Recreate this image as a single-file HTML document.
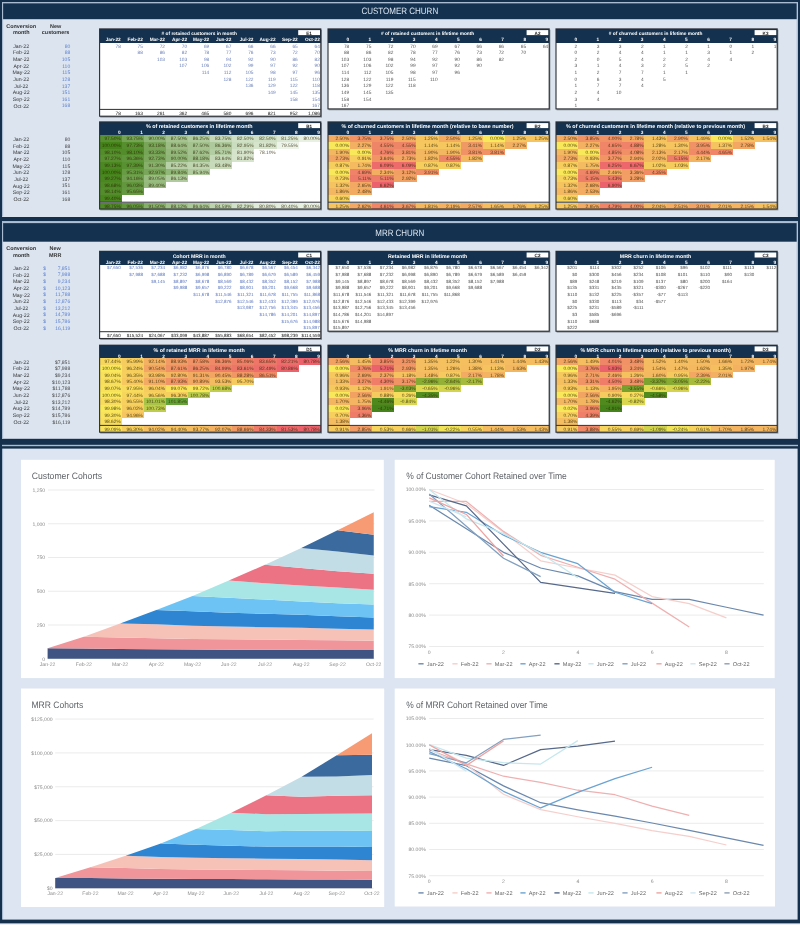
<!DOCTYPE html>
<html><head><meta charset="utf-8"><title>Cohort churn</title><style>
*{margin:0;padding:0}
html,body{width:800px;height:925px;overflow:hidden;background:#15304c}
svg{position:absolute;left:0;top:0;display:block;filter:blur(0.35px)}
text{font-family:"Liberation Sans",sans-serif;white-space:pre;text-rendering:geometricPrecision}
.sec{fill:#dce5f0;font-size:9.2px}
.hd{fill:#fff;font-weight:bold;font-size:4.8px}
.lb{fill:#222;font-weight:bold;font-size:4.6px}
.ch{fill:#fff;font-weight:bold;font-size:4.75px}
.vb{fill:#6a7fb8;font-size:4.8px}
.vmb{fill:#5d78c0;font-size:4.5px}
.vd{fill:#555;font-size:4.8px}
.vm{fill:#505050;font-size:4.5px}
.vh{fill:#2a2200;fill-opacity:0.78;font-size:4.85px}
.tv{fill:#111;font-size:4.8px}
.tvm{fill:#111;font-size:4.5px}
.lh{fill:#333;font-weight:bold;font-size:5.45px}
.lm{fill:#333;font-size:5.2px}
.lvb{fill:#5b7fd0;font-size:5.0px}
.lvd{fill:#444;font-size:5.0px}
.ct{fill:#5f6368;font-size:9.3px}
.ax{fill:#8a8a8a;font-size:5.1px}
.ay{fill:#8a8a8a;font-size:5.1px}
.lg{fill:#666;font-size:5.6px}
</style></head>
<body><svg width="800" height="925" viewBox="0 0 800 925">
<rect x="0.00" y="0.00" width="800.00" height="925.00" fill="#15304c" shape-rendering="crispEdges"/>
<rect x="2.00" y="2.00" width="796.00" height="214.50" fill="#dbe4ef" shape-rendering="crispEdges"/>
<rect x="2.00" y="2.00" width="796.00" height="1.30" fill="#a9bcd1"/>
<rect x="2.00" y="2.00" width="1.10" height="214.50" fill="#a9bcd1"/>
<rect x="796.70" y="2.00" width="1.10" height="214.50" fill="#a9bcd1"/>
<rect x="3.10" y="3.30" width="793.60" height="15.90" fill="#14324f"/>
<text x="399.80" y="14.27" class="sec" text-anchor="middle" textLength="76.80" lengthAdjust="spacingAndGlyphs">CUSTOMER CHURN</text>
<rect x="2.00" y="221.30" width="796.00" height="217.50" fill="#dbe4ef"/>
<rect x="2.00" y="221.30" width="796.00" height="1.60" fill="#a9bcd1"/>
<rect x="2.00" y="221.30" width="1.10" height="217.50" fill="#a9bcd1"/>
<rect x="796.70" y="221.30" width="1.10" height="217.50" fill="#a9bcd1"/>
<rect x="3.10" y="223.10" width="793.60" height="18.60" fill="#14324f"/>
<text x="399.80" y="235.97" class="sec" text-anchor="middle" textLength="49.00" lengthAdjust="spacingAndGlyphs">MRR CHURN</text>
<rect x="2.00" y="444.80" width="796.00" height="1.40" fill="#a9bcd1"/>
<rect x="3.00" y="448.60" width="794.60" height="471.00" fill="#dce5f1"/>
<rect x="2.00" y="448.60" width="1.10" height="471.00" fill="#a9bcd1"/>
<rect x="0.00" y="923.40" width="800.00" height="1.60" fill="#eef2f7"/>
<text x="21.20" y="27.53" class="lh" text-anchor="middle">Conversion</text>
<text x="21.20" y="34.43" class="lh" text-anchor="middle">month</text>
<text x="55.60" y="27.53" class="lh" text-anchor="middle">New</text>
<text x="55.60" y="34.43" class="lh" text-anchor="middle">customers</text>
<text x="21.20" y="47.75" class="lm" text-anchor="middle">Jan-22</text>
<text x="70.20" y="47.67" class="lvb" text-anchor="end">80</text>
<text x="21.20" y="54.39" class="lm" text-anchor="middle">Feb-22</text>
<text x="70.20" y="54.31" class="lvb" text-anchor="end">88</text>
<text x="21.20" y="61.03" class="lm" text-anchor="middle">Mar-22</text>
<text x="70.20" y="60.95" class="lvb" text-anchor="end">105</text>
<text x="21.20" y="67.67" class="lm" text-anchor="middle">Apr-22</text>
<text x="70.20" y="67.59" class="lvb" text-anchor="end">110</text>
<text x="21.20" y="74.31" class="lm" text-anchor="middle">May-22</text>
<text x="70.20" y="74.23" class="lvb" text-anchor="end">115</text>
<text x="21.20" y="80.95" class="lm" text-anchor="middle">Jun-22</text>
<text x="70.20" y="80.88" class="lvb" text-anchor="end">128</text>
<text x="21.20" y="87.59" class="lm" text-anchor="middle">Jul-22</text>
<text x="70.20" y="87.52" class="lvb" text-anchor="end">137</text>
<text x="21.20" y="94.23" class="lm" text-anchor="middle">Aug-22</text>
<text x="70.20" y="94.16" class="lvb" text-anchor="end">151</text>
<text x="21.20" y="100.87" class="lm" text-anchor="middle">Sep-22</text>
<text x="70.20" y="100.80" class="lvb" text-anchor="end">161</text>
<text x="21.20" y="107.51" class="lm" text-anchor="middle">Oct-22</text>
<text x="70.20" y="107.44" class="lvb" text-anchor="end">168</text>
<text x="21.20" y="141.05" class="lm" text-anchor="middle">Jan-22</text>
<text x="70.20" y="140.97" class="lvd" text-anchor="end">80</text>
<text x="21.20" y="147.69" class="lm" text-anchor="middle">Feb-22</text>
<text x="70.20" y="147.61" class="lvd" text-anchor="end">88</text>
<text x="21.20" y="154.33" class="lm" text-anchor="middle">Mar-22</text>
<text x="70.20" y="154.25" class="lvd" text-anchor="end">105</text>
<text x="21.20" y="160.97" class="lm" text-anchor="middle">Apr-22</text>
<text x="70.20" y="160.89" class="lvd" text-anchor="end">110</text>
<text x="21.20" y="167.61" class="lm" text-anchor="middle">May-22</text>
<text x="70.20" y="167.53" class="lvd" text-anchor="end">115</text>
<text x="21.20" y="174.25" class="lm" text-anchor="middle">Jun-22</text>
<text x="70.20" y="174.17" class="lvd" text-anchor="end">128</text>
<text x="21.20" y="180.89" class="lm" text-anchor="middle">Jul-22</text>
<text x="70.20" y="180.81" class="lvd" text-anchor="end">137</text>
<text x="21.20" y="187.53" class="lm" text-anchor="middle">Aug-22</text>
<text x="70.20" y="187.45" class="lvd" text-anchor="end">151</text>
<text x="21.20" y="194.17" class="lm" text-anchor="middle">Sep-22</text>
<text x="70.20" y="194.09" class="lvd" text-anchor="end">161</text>
<text x="21.20" y="200.81" class="lm" text-anchor="middle">Oct-22</text>
<text x="70.20" y="200.73" class="lvd" text-anchor="end">168</text>
<text x="21.20" y="249.93" class="lh" text-anchor="middle">Conversion</text>
<text x="21.20" y="256.63" class="lh" text-anchor="middle">month</text>
<text x="55.20" y="249.93" class="lh" text-anchor="middle">New</text>
<text x="55.20" y="256.63" class="lh" text-anchor="middle">MRR</text>
<text x="21.20" y="269.85" class="lm" text-anchor="middle">Jan-22</text>
<text x="43.20" y="269.77" class="lvb">$</text>
<text x="70.20" y="269.77" class="lvb" text-anchor="end">7,851</text>
<text x="21.20" y="276.52" class="lm" text-anchor="middle">Feb-22</text>
<text x="43.20" y="276.44" class="lvb">$</text>
<text x="70.20" y="276.44" class="lvb" text-anchor="end">7,988</text>
<text x="21.20" y="283.19" class="lm" text-anchor="middle">Mar-22</text>
<text x="43.20" y="283.11" class="lvb">$</text>
<text x="70.20" y="283.11" class="lvb" text-anchor="end">9,234</text>
<text x="21.20" y="289.86" class="lm" text-anchor="middle">Apr-22</text>
<text x="43.20" y="289.78" class="lvb">$</text>
<text x="70.20" y="289.78" class="lvb" text-anchor="end">10,123</text>
<text x="21.20" y="296.53" class="lm" text-anchor="middle">May-22</text>
<text x="43.20" y="296.45" class="lvb">$</text>
<text x="70.20" y="296.45" class="lvb" text-anchor="end">11,788</text>
<text x="21.20" y="303.20" class="lm" text-anchor="middle">Jun-22</text>
<text x="43.20" y="303.12" class="lvb">$</text>
<text x="70.20" y="303.12" class="lvb" text-anchor="end">12,876</text>
<text x="21.20" y="309.87" class="lm" text-anchor="middle">Jul-22</text>
<text x="43.20" y="309.79" class="lvb">$</text>
<text x="70.20" y="309.79" class="lvb" text-anchor="end">13,212</text>
<text x="21.20" y="316.54" class="lm" text-anchor="middle">Aug-22</text>
<text x="43.20" y="316.46" class="lvb">$</text>
<text x="70.20" y="316.46" class="lvb" text-anchor="end">14,789</text>
<text x="21.20" y="323.21" class="lm" text-anchor="middle">Sep-22</text>
<text x="43.20" y="323.13" class="lvb">$</text>
<text x="70.20" y="323.13" class="lvb" text-anchor="end">15,786</text>
<text x="21.20" y="329.88" class="lm" text-anchor="middle">Oct-22</text>
<text x="43.20" y="329.80" class="lvb">$</text>
<text x="70.20" y="329.80" class="lvb" text-anchor="end">16,119</text>
<text x="21.20" y="363.65" class="lm" text-anchor="middle">Jan-22</text>
<text x="70.20" y="363.57" class="lvd" text-anchor="end">$7,851</text>
<text x="21.20" y="370.32" class="lm" text-anchor="middle">Feb-22</text>
<text x="70.20" y="370.25" class="lvd" text-anchor="end">$7,988</text>
<text x="21.20" y="376.99" class="lm" text-anchor="middle">Mar-22</text>
<text x="70.20" y="376.91" class="lvd" text-anchor="end">$9,234</text>
<text x="21.20" y="383.66" class="lm" text-anchor="middle">Apr-22</text>
<text x="70.20" y="383.58" class="lvd" text-anchor="end">$10,123</text>
<text x="21.20" y="390.33" class="lm" text-anchor="middle">May-22</text>
<text x="70.20" y="390.25" class="lvd" text-anchor="end">$11,788</text>
<text x="21.20" y="397.00" class="lm" text-anchor="middle">Jun-22</text>
<text x="70.20" y="396.93" class="lvd" text-anchor="end">$12,876</text>
<text x="21.20" y="403.67" class="lm" text-anchor="middle">Jul-22</text>
<text x="70.20" y="403.59" class="lvd" text-anchor="end">$13,212</text>
<text x="21.20" y="410.34" class="lm" text-anchor="middle">Aug-22</text>
<text x="70.20" y="410.26" class="lvd" text-anchor="end">$14,789</text>
<text x="21.20" y="417.01" class="lm" text-anchor="middle">Sep-22</text>
<text x="70.20" y="416.94" class="lvd" text-anchor="end">$15,786</text>
<text x="21.20" y="423.68" class="lm" text-anchor="middle">Oct-22</text>
<text x="70.20" y="423.61" class="lvd" text-anchor="end">$16,119</text>
<rect x="100.20" y="29.70" width="221.80" height="87.90" fill="#8f949c"/>
<rect x="99.60" y="28.90" width="221.20" height="87.30" fill="#ffffff" shape-rendering="crispEdges"/>
<rect x="99.60" y="28.90" width="221.20" height="13.60" fill="#14324f" shape-rendering="crispEdges"/>
<text x="199.20" y="35.10" class="hd" text-anchor="middle" style="font-size:4.78px"># of retained customers in month</text>
<rect x="298.20" y="30.10" width="21.80" height="5.00" fill="#ffffff"/>
<text x="309.10" y="34.83" class="lb" text-anchor="middle">E1</text>
<text x="120.72" y="41.49" class="ch" text-anchor="end">Jan-22</text>
<text x="142.84" y="41.49" class="ch" text-anchor="end">Feb-22</text>
<text x="164.96" y="41.49" class="ch" text-anchor="end">Mar-22</text>
<text x="187.08" y="41.49" class="ch" text-anchor="end">Apr-22</text>
<text x="209.20" y="41.49" class="ch" text-anchor="end">May-22</text>
<text x="231.32" y="41.49" class="ch" text-anchor="end">Jun-22</text>
<text x="253.44" y="41.49" class="ch" text-anchor="end">Jul-22</text>
<text x="275.56" y="41.49" class="ch" text-anchor="end">Aug-22</text>
<text x="297.68" y="41.49" class="ch" text-anchor="end">Sep-22</text>
<text x="319.80" y="41.49" class="ch" text-anchor="end">Oct-22</text>
<text x="120.82" y="47.52" class="vb" text-anchor="end">78</text>
<text x="142.94" y="47.52" class="vb" text-anchor="end">75</text>
<text x="165.06" y="47.52" class="vb" text-anchor="end">72</text>
<text x="187.18" y="47.52" class="vb" text-anchor="end">70</text>
<text x="209.30" y="47.52" class="vb" text-anchor="end">69</text>
<text x="231.42" y="47.52" class="vb" text-anchor="end">67</text>
<text x="253.54" y="47.52" class="vb" text-anchor="end">66</text>
<text x="275.66" y="47.52" class="vb" text-anchor="end">66</text>
<text x="297.78" y="47.52" class="vb" text-anchor="end">65</text>
<text x="319.90" y="47.52" class="vb" text-anchor="end">64</text>
<text x="142.94" y="54.16" class="vb" text-anchor="end">88</text>
<text x="165.06" y="54.16" class="vb" text-anchor="end">86</text>
<text x="187.18" y="54.16" class="vb" text-anchor="end">82</text>
<text x="209.30" y="54.16" class="vb" text-anchor="end">78</text>
<text x="231.42" y="54.16" class="vb" text-anchor="end">77</text>
<text x="253.54" y="54.16" class="vb" text-anchor="end">76</text>
<text x="275.66" y="54.16" class="vb" text-anchor="end">73</text>
<text x="297.78" y="54.16" class="vb" text-anchor="end">72</text>
<text x="319.90" y="54.16" class="vb" text-anchor="end">70</text>
<text x="165.06" y="60.80" class="vb" text-anchor="end">103</text>
<text x="187.18" y="60.80" class="vb" text-anchor="end">103</text>
<text x="209.30" y="60.80" class="vb" text-anchor="end">98</text>
<text x="231.42" y="60.80" class="vb" text-anchor="end">94</text>
<text x="253.54" y="60.80" class="vb" text-anchor="end">92</text>
<text x="275.66" y="60.80" class="vb" text-anchor="end">90</text>
<text x="297.78" y="60.80" class="vb" text-anchor="end">86</text>
<text x="319.90" y="60.80" class="vb" text-anchor="end">82</text>
<text x="187.18" y="67.44" class="vb" text-anchor="end">107</text>
<text x="209.30" y="67.44" class="vb" text-anchor="end">106</text>
<text x="231.42" y="67.44" class="vb" text-anchor="end">102</text>
<text x="253.54" y="67.44" class="vb" text-anchor="end">99</text>
<text x="275.66" y="67.44" class="vb" text-anchor="end">97</text>
<text x="297.78" y="67.44" class="vb" text-anchor="end">92</text>
<text x="319.90" y="67.44" class="vb" text-anchor="end">90</text>
<text x="209.30" y="74.08" class="vb" text-anchor="end">114</text>
<text x="231.42" y="74.08" class="vb" text-anchor="end">112</text>
<text x="253.54" y="74.08" class="vb" text-anchor="end">105</text>
<text x="275.66" y="74.08" class="vb" text-anchor="end">98</text>
<text x="297.78" y="74.08" class="vb" text-anchor="end">97</text>
<text x="319.90" y="74.08" class="vb" text-anchor="end">96</text>
<text x="231.42" y="80.72" class="vb" text-anchor="end">128</text>
<text x="253.54" y="80.72" class="vb" text-anchor="end">122</text>
<text x="275.66" y="80.72" class="vb" text-anchor="end">119</text>
<text x="297.78" y="80.72" class="vb" text-anchor="end">115</text>
<text x="319.90" y="80.72" class="vb" text-anchor="end">110</text>
<text x="253.54" y="87.36" class="vb" text-anchor="end">136</text>
<text x="275.66" y="87.36" class="vb" text-anchor="end">129</text>
<text x="297.78" y="87.36" class="vb" text-anchor="end">122</text>
<text x="319.90" y="87.36" class="vb" text-anchor="end">118</text>
<text x="275.66" y="94.00" class="vb" text-anchor="end">149</text>
<text x="297.78" y="94.00" class="vb" text-anchor="end">145</text>
<text x="319.90" y="94.00" class="vb" text-anchor="end">135</text>
<text x="297.78" y="100.64" class="vb" text-anchor="end">158</text>
<text x="319.90" y="100.64" class="vb" text-anchor="end">154</text>
<text x="319.90" y="107.28" class="vb" text-anchor="end">167</text>
<rect x="99.60" y="108.90" width="221.20" height="1.00" fill="#2b2f36"/>
<text x="120.82" y="114.75" class="tv" text-anchor="end">78</text>
<text x="142.94" y="114.75" class="tv" text-anchor="end">163</text>
<text x="165.06" y="114.75" class="tv" text-anchor="end">261</text>
<text x="187.18" y="114.75" class="tv" text-anchor="end">362</text>
<text x="209.30" y="114.75" class="tv" text-anchor="end">465</text>
<text x="231.42" y="114.75" class="tv" text-anchor="end">580</text>
<text x="253.54" y="114.75" class="tv" text-anchor="end">696</text>
<text x="275.66" y="114.75" class="tv" text-anchor="end">821</text>
<text x="297.78" y="114.75" class="tv" text-anchor="end">952</text>
<text x="319.90" y="114.75" class="tv" text-anchor="end">1,086</text>
<rect x="99.60" y="28.90" width="221.20" height="87.30" fill="none" stroke="#2a2d33" stroke-width="1.1"/>
<rect x="328.60" y="29.70" width="221.80" height="80.60" fill="#8f949c"/>
<rect x="328.00" y="28.90" width="221.20" height="80.00" fill="#ffffff" shape-rendering="crispEdges"/>
<rect x="328.00" y="28.90" width="221.20" height="13.60" fill="#14324f" shape-rendering="crispEdges"/>
<text x="427.60" y="35.10" class="hd" text-anchor="middle" style="font-size:4.78px"># of retained customers in lifetime month</text>
<rect x="526.60" y="30.10" width="21.80" height="5.00" fill="#ffffff"/>
<text x="537.50" y="34.83" class="lb" text-anchor="middle">A2</text>
<text x="349.12" y="41.49" class="ch" text-anchor="end">0</text>
<text x="371.24" y="41.49" class="ch" text-anchor="end">1</text>
<text x="393.36" y="41.49" class="ch" text-anchor="end">2</text>
<text x="415.48" y="41.49" class="ch" text-anchor="end">3</text>
<text x="437.60" y="41.49" class="ch" text-anchor="end">4</text>
<text x="459.72" y="41.49" class="ch" text-anchor="end">5</text>
<text x="481.84" y="41.49" class="ch" text-anchor="end">6</text>
<text x="503.96" y="41.49" class="ch" text-anchor="end">7</text>
<text x="526.08" y="41.49" class="ch" text-anchor="end">8</text>
<text x="548.20" y="41.49" class="ch" text-anchor="end">9</text>
<text x="349.22" y="47.52" class="vd" text-anchor="end">78</text>
<text x="371.34" y="47.52" class="vd" text-anchor="end">75</text>
<text x="393.46" y="47.52" class="vd" text-anchor="end">72</text>
<text x="415.58" y="47.52" class="vd" text-anchor="end">70</text>
<text x="437.70" y="47.52" class="vd" text-anchor="end">69</text>
<text x="459.82" y="47.52" class="vd" text-anchor="end">67</text>
<text x="481.94" y="47.52" class="vd" text-anchor="end">66</text>
<text x="504.06" y="47.52" class="vd" text-anchor="end">66</text>
<text x="526.18" y="47.52" class="vd" text-anchor="end">65</text>
<text x="548.30" y="47.52" class="vd" text-anchor="end">64</text>
<text x="349.22" y="54.16" class="vd" text-anchor="end">88</text>
<text x="371.34" y="54.16" class="vd" text-anchor="end">86</text>
<text x="393.46" y="54.16" class="vd" text-anchor="end">82</text>
<text x="415.58" y="54.16" class="vd" text-anchor="end">78</text>
<text x="437.70" y="54.16" class="vd" text-anchor="end">77</text>
<text x="459.82" y="54.16" class="vd" text-anchor="end">76</text>
<text x="481.94" y="54.16" class="vd" text-anchor="end">73</text>
<text x="504.06" y="54.16" class="vd" text-anchor="end">72</text>
<text x="526.18" y="54.16" class="vd" text-anchor="end">70</text>
<text x="349.22" y="60.80" class="vd" text-anchor="end">103</text>
<text x="371.34" y="60.80" class="vd" text-anchor="end">103</text>
<text x="393.46" y="60.80" class="vd" text-anchor="end">98</text>
<text x="415.58" y="60.80" class="vd" text-anchor="end">94</text>
<text x="437.70" y="60.80" class="vd" text-anchor="end">92</text>
<text x="459.82" y="60.80" class="vd" text-anchor="end">90</text>
<text x="481.94" y="60.80" class="vd" text-anchor="end">86</text>
<text x="504.06" y="60.80" class="vd" text-anchor="end">82</text>
<text x="349.22" y="67.44" class="vd" text-anchor="end">107</text>
<text x="371.34" y="67.44" class="vd" text-anchor="end">106</text>
<text x="393.46" y="67.44" class="vd" text-anchor="end">102</text>
<text x="415.58" y="67.44" class="vd" text-anchor="end">99</text>
<text x="437.70" y="67.44" class="vd" text-anchor="end">97</text>
<text x="459.82" y="67.44" class="vd" text-anchor="end">92</text>
<text x="481.94" y="67.44" class="vd" text-anchor="end">90</text>
<text x="349.22" y="74.08" class="vd" text-anchor="end">114</text>
<text x="371.34" y="74.08" class="vd" text-anchor="end">112</text>
<text x="393.46" y="74.08" class="vd" text-anchor="end">105</text>
<text x="415.58" y="74.08" class="vd" text-anchor="end">98</text>
<text x="437.70" y="74.08" class="vd" text-anchor="end">97</text>
<text x="459.82" y="74.08" class="vd" text-anchor="end">96</text>
<text x="349.22" y="80.72" class="vd" text-anchor="end">128</text>
<text x="371.34" y="80.72" class="vd" text-anchor="end">122</text>
<text x="393.46" y="80.72" class="vd" text-anchor="end">119</text>
<text x="415.58" y="80.72" class="vd" text-anchor="end">115</text>
<text x="437.70" y="80.72" class="vd" text-anchor="end">110</text>
<text x="349.22" y="87.36" class="vd" text-anchor="end">136</text>
<text x="371.34" y="87.36" class="vd" text-anchor="end">129</text>
<text x="393.46" y="87.36" class="vd" text-anchor="end">122</text>
<text x="415.58" y="87.36" class="vd" text-anchor="end">118</text>
<text x="349.22" y="94.00" class="vd" text-anchor="end">149</text>
<text x="371.34" y="94.00" class="vd" text-anchor="end">145</text>
<text x="393.46" y="94.00" class="vd" text-anchor="end">135</text>
<text x="349.22" y="100.64" class="vd" text-anchor="end">158</text>
<text x="371.34" y="100.64" class="vd" text-anchor="end">154</text>
<text x="349.22" y="107.28" class="vd" text-anchor="end">167</text>
<rect x="328.00" y="28.90" width="221.20" height="80.00" fill="none" stroke="#2a2d33" stroke-width="1.1"/>
<rect x="556.60" y="29.70" width="221.80" height="80.60" fill="#8f949c"/>
<rect x="556.00" y="28.90" width="221.20" height="80.00" fill="#ffffff" shape-rendering="crispEdges"/>
<rect x="556.00" y="28.90" width="221.20" height="13.60" fill="#14324f" shape-rendering="crispEdges"/>
<text x="655.60" y="35.10" class="hd" text-anchor="middle" style="font-size:4.78px"># of churned customers in lifetime month</text>
<rect x="754.60" y="30.10" width="21.80" height="5.00" fill="#ffffff"/>
<text x="765.50" y="34.83" class="lb" text-anchor="middle">K3</text>
<text x="577.12" y="41.49" class="ch" text-anchor="end">0</text>
<text x="599.24" y="41.49" class="ch" text-anchor="end">1</text>
<text x="621.36" y="41.49" class="ch" text-anchor="end">2</text>
<text x="643.48" y="41.49" class="ch" text-anchor="end">3</text>
<text x="665.60" y="41.49" class="ch" text-anchor="end">4</text>
<text x="687.72" y="41.49" class="ch" text-anchor="end">5</text>
<text x="709.84" y="41.49" class="ch" text-anchor="end">6</text>
<text x="731.96" y="41.49" class="ch" text-anchor="end">7</text>
<text x="754.08" y="41.49" class="ch" text-anchor="end">8</text>
<text x="776.20" y="41.49" class="ch" text-anchor="end">9</text>
<text x="577.22" y="47.52" class="vd" text-anchor="end">2</text>
<text x="599.34" y="47.52" class="vd" text-anchor="end">3</text>
<text x="621.46" y="47.52" class="vd" text-anchor="end">3</text>
<text x="643.58" y="47.52" class="vd" text-anchor="end">2</text>
<text x="665.70" y="47.52" class="vd" text-anchor="end">1</text>
<text x="687.82" y="47.52" class="vd" text-anchor="end">2</text>
<text x="709.94" y="47.52" class="vd" text-anchor="end">1</text>
<text x="732.06" y="47.52" class="vd" text-anchor="end">0</text>
<text x="754.18" y="47.52" class="vd" text-anchor="end">1</text>
<text x="776.30" y="47.52" class="vd" text-anchor="end">1</text>
<text x="577.22" y="54.16" class="vd" text-anchor="end">0</text>
<text x="599.34" y="54.16" class="vd" text-anchor="end">2</text>
<text x="621.46" y="54.16" class="vd" text-anchor="end">4</text>
<text x="643.58" y="54.16" class="vd" text-anchor="end">4</text>
<text x="665.70" y="54.16" class="vd" text-anchor="end">1</text>
<text x="687.82" y="54.16" class="vd" text-anchor="end">1</text>
<text x="709.94" y="54.16" class="vd" text-anchor="end">3</text>
<text x="732.06" y="54.16" class="vd" text-anchor="end">1</text>
<text x="754.18" y="54.16" class="vd" text-anchor="end">2</text>
<text x="577.22" y="60.80" class="vd" text-anchor="end">2</text>
<text x="599.34" y="60.80" class="vd" text-anchor="end">0</text>
<text x="621.46" y="60.80" class="vd" text-anchor="end">5</text>
<text x="643.58" y="60.80" class="vd" text-anchor="end">4</text>
<text x="665.70" y="60.80" class="vd" text-anchor="end">2</text>
<text x="687.82" y="60.80" class="vd" text-anchor="end">2</text>
<text x="709.94" y="60.80" class="vd" text-anchor="end">4</text>
<text x="732.06" y="60.80" class="vd" text-anchor="end">4</text>
<text x="577.22" y="67.44" class="vd" text-anchor="end">3</text>
<text x="599.34" y="67.44" class="vd" text-anchor="end">1</text>
<text x="621.46" y="67.44" class="vd" text-anchor="end">4</text>
<text x="643.58" y="67.44" class="vd" text-anchor="end">3</text>
<text x="665.70" y="67.44" class="vd" text-anchor="end">2</text>
<text x="687.82" y="67.44" class="vd" text-anchor="end">5</text>
<text x="709.94" y="67.44" class="vd" text-anchor="end">2</text>
<text x="577.22" y="74.08" class="vd" text-anchor="end">1</text>
<text x="599.34" y="74.08" class="vd" text-anchor="end">2</text>
<text x="621.46" y="74.08" class="vd" text-anchor="end">7</text>
<text x="643.58" y="74.08" class="vd" text-anchor="end">7</text>
<text x="665.70" y="74.08" class="vd" text-anchor="end">1</text>
<text x="687.82" y="74.08" class="vd" text-anchor="end">1</text>
<text x="577.22" y="80.72" class="vd" text-anchor="end">0</text>
<text x="599.34" y="80.72" class="vd" text-anchor="end">6</text>
<text x="621.46" y="80.72" class="vd" text-anchor="end">3</text>
<text x="643.58" y="80.72" class="vd" text-anchor="end">4</text>
<text x="665.70" y="80.72" class="vd" text-anchor="end">5</text>
<text x="577.22" y="87.36" class="vd" text-anchor="end">1</text>
<text x="599.34" y="87.36" class="vd" text-anchor="end">7</text>
<text x="621.46" y="87.36" class="vd" text-anchor="end">7</text>
<text x="643.58" y="87.36" class="vd" text-anchor="end">4</text>
<text x="577.22" y="94.00" class="vd" text-anchor="end">2</text>
<text x="599.34" y="94.00" class="vd" text-anchor="end">4</text>
<text x="621.46" y="94.00" class="vd" text-anchor="end">10</text>
<text x="577.22" y="100.64" class="vd" text-anchor="end">3</text>
<text x="599.34" y="100.64" class="vd" text-anchor="end">4</text>
<text x="577.22" y="107.28" class="vd" text-anchor="end">1</text>
<rect x="556.00" y="28.90" width="221.20" height="80.00" fill="none" stroke="#2a2d33" stroke-width="1.1"/>
<rect x="100.20" y="122.70" width="221.80" height="87.70" fill="#8f949c"/>
<rect x="99.60" y="121.90" width="221.20" height="87.10" fill="#ffffff" shape-rendering="crispEdges"/>
<rect x="99.60" y="121.90" width="221.20" height="13.40" fill="#14324f" shape-rendering="crispEdges"/>
<text x="199.20" y="128.31" class="hd" text-anchor="middle" style="font-size:5.37px">% of retained customers in lifetime month</text>
<rect x="298.20" y="123.10" width="21.80" height="5.00" fill="#ffffff"/>
<text x="309.10" y="127.83" class="lb" text-anchor="middle">B1</text>
<text x="120.72" y="134.49" class="ch" text-anchor="end">0</text>
<text x="142.84" y="134.49" class="ch" text-anchor="end">1</text>
<text x="164.96" y="134.49" class="ch" text-anchor="end">2</text>
<text x="187.08" y="134.49" class="ch" text-anchor="end">3</text>
<text x="209.20" y="134.49" class="ch" text-anchor="end">4</text>
<text x="231.32" y="134.49" class="ch" text-anchor="end">5</text>
<text x="253.44" y="134.49" class="ch" text-anchor="end">6</text>
<text x="275.56" y="134.49" class="ch" text-anchor="end">7</text>
<text x="297.68" y="134.49" class="ch" text-anchor="end">8</text>
<text x="319.80" y="134.49" class="ch" text-anchor="end">9</text>
<rect x="99.60" y="135.30" width="22.17" height="6.69" fill="#579030" shape-rendering="crispEdges"/>
<rect x="121.72" y="135.30" width="22.17" height="6.69" fill="#73a353" shape-rendering="crispEdges"/>
<rect x="143.84" y="135.30" width="22.17" height="6.69" fill="#90b677" shape-rendering="crispEdges"/>
<rect x="165.96" y="135.30" width="22.17" height="6.69" fill="#a4c38f" shape-rendering="crispEdges"/>
<rect x="188.08" y="135.30" width="22.17" height="6.69" fill="#afca9c" shape-rendering="crispEdges"/>
<rect x="210.20" y="135.30" width="22.17" height="6.69" fill="#c4d8b7" shape-rendering="crispEdges"/>
<rect x="232.32" y="135.30" width="22.17" height="6.69" fill="#cfe0c4" shape-rendering="crispEdges"/>
<rect x="254.44" y="135.30" width="22.17" height="6.69" fill="#cfe0c4" shape-rendering="crispEdges"/>
<rect x="276.56" y="135.30" width="22.17" height="6.69" fill="#dbe7d3" shape-rendering="crispEdges"/>
<rect x="298.68" y="135.30" width="22.17" height="6.69" fill="#e8f0e2" shape-rendering="crispEdges"/>
<rect x="99.60" y="141.94" width="22.17" height="6.69" fill="#45841a" shape-rendering="crispEdges"/>
<rect x="121.72" y="141.94" width="22.17" height="6.69" fill="#568f2e" shape-rendering="crispEdges"/>
<rect x="143.84" y="141.94" width="22.17" height="6.69" fill="#78a558" shape-rendering="crispEdges"/>
<rect x="165.96" y="141.94" width="22.17" height="6.69" fill="#9bbd84" shape-rendering="crispEdges"/>
<rect x="188.08" y="141.94" width="22.17" height="6.69" fill="#a4c38f" shape-rendering="crispEdges"/>
<rect x="210.20" y="141.94" width="22.17" height="6.69" fill="#aec99b" shape-rendering="crispEdges"/>
<rect x="232.32" y="141.94" width="22.17" height="6.69" fill="#cbddbf" shape-rendering="crispEdges"/>
<rect x="254.44" y="141.94" width="22.17" height="6.69" fill="#d6e4cc" shape-rendering="crispEdges"/>
<rect x="276.56" y="141.94" width="22.17" height="6.69" fill="#ecf3e8" shape-rendering="crispEdges"/>
<rect x="99.60" y="148.58" width="22.17" height="6.69" fill="#538d2b" shape-rendering="crispEdges"/>
<rect x="121.72" y="148.58" width="22.17" height="6.69" fill="#538d2b" shape-rendering="crispEdges"/>
<rect x="143.84" y="148.58" width="22.17" height="6.69" fill="#76a557" shape-rendering="crispEdges"/>
<rect x="165.96" y="148.58" width="22.17" height="6.69" fill="#94b87b" shape-rendering="crispEdges"/>
<rect x="188.08" y="148.58" width="22.17" height="6.69" fill="#a3c28e" shape-rendering="crispEdges"/>
<rect x="210.20" y="148.58" width="22.17" height="6.69" fill="#b3cda2" shape-rendering="crispEdges"/>
<rect x="232.32" y="148.58" width="22.17" height="6.69" fill="#d5e3cb" shape-rendering="crispEdges"/>
<rect x="254.44" y="148.58" width="22.17" height="6.69" fill="#ffffff" shape-rendering="crispEdges"/>
<rect x="99.60" y="155.22" width="22.17" height="6.69" fill="#599132" shape-rendering="crispEdges"/>
<rect x="121.72" y="155.22" width="22.17" height="6.69" fill="#60963b" shape-rendering="crispEdges"/>
<rect x="143.84" y="155.22" width="22.17" height="6.69" fill="#7ba85c" shape-rendering="crispEdges"/>
<rect x="165.96" y="155.22" width="22.17" height="6.69" fill="#90b677" shape-rendering="crispEdges"/>
<rect x="188.08" y="155.22" width="22.17" height="6.69" fill="#9fbf89" shape-rendering="crispEdges"/>
<rect x="210.20" y="155.22" width="22.17" height="6.69" fill="#c5d9b8" shape-rendering="crispEdges"/>
<rect x="232.32" y="155.22" width="22.17" height="6.69" fill="#d6e4cc" shape-rendering="crispEdges"/>
<rect x="99.60" y="161.86" width="22.17" height="6.69" fill="#4b8822" shape-rendering="crispEdges"/>
<rect x="121.72" y="161.86" width="22.17" height="6.69" fill="#589131" shape-rendering="crispEdges"/>
<rect x="143.84" y="161.86" width="22.17" height="6.69" fill="#86af6a" shape-rendering="crispEdges"/>
<rect x="165.96" y="161.86" width="22.17" height="6.69" fill="#b7d0a7" shape-rendering="crispEdges"/>
<rect x="188.08" y="161.86" width="22.17" height="6.69" fill="#bfd5b0" shape-rendering="crispEdges"/>
<rect x="210.20" y="161.86" width="22.17" height="6.69" fill="#c7daba" shape-rendering="crispEdges"/>
<rect x="99.60" y="168.50" width="22.17" height="6.69" fill="#45841a" shape-rendering="crispEdges"/>
<rect x="121.72" y="168.50" width="22.17" height="6.69" fill="#679b44" shape-rendering="crispEdges"/>
<rect x="143.84" y="168.50" width="22.17" height="6.69" fill="#79a65a" shape-rendering="crispEdges"/>
<rect x="165.96" y="168.50" width="22.17" height="6.69" fill="#91b778" shape-rendering="crispEdges"/>
<rect x="188.08" y="168.50" width="22.17" height="6.69" fill="#b1cc9f" shape-rendering="crispEdges"/>
<rect x="99.60" y="175.14" width="22.17" height="6.69" fill="#4a8721" shape-rendering="crispEdges"/>
<rect x="121.72" y="175.14" width="22.17" height="6.69" fill="#70a04f" shape-rendering="crispEdges"/>
<rect x="143.84" y="175.14" width="22.17" height="6.69" fill="#98bb80" shape-rendering="crispEdges"/>
<rect x="165.96" y="175.14" width="22.17" height="6.69" fill="#b0cb9d" shape-rendering="crispEdges"/>
<rect x="99.60" y="181.78" width="22.17" height="6.69" fill="#4f8a26" shape-rendering="crispEdges"/>
<rect x="121.72" y="181.78" width="22.17" height="6.69" fill="#62973e" shape-rendering="crispEdges"/>
<rect x="143.84" y="181.78" width="22.17" height="6.69" fill="#95b97c" shape-rendering="crispEdges"/>
<rect x="99.60" y="188.42" width="22.17" height="6.69" fill="#538d2b" shape-rendering="crispEdges"/>
<rect x="121.72" y="188.42" width="22.17" height="6.69" fill="#659941" shape-rendering="crispEdges"/>
<rect x="99.60" y="195.06" width="22.17" height="6.69" fill="#49871f" shape-rendering="crispEdges"/>
<text x="120.82" y="140.34" class="vh" text-anchor="end">97.50%</text>
<text x="142.94" y="140.34" class="vh" text-anchor="end">93.75%</text>
<text x="165.06" y="140.34" class="vh" text-anchor="end">90.00%</text>
<text x="187.18" y="140.34" class="vh" text-anchor="end">87.50%</text>
<text x="209.30" y="140.34" class="vh" text-anchor="end">86.25%</text>
<text x="231.42" y="140.34" class="vh" text-anchor="end">83.75%</text>
<text x="253.54" y="140.34" class="vh" text-anchor="end">82.50%</text>
<text x="275.66" y="140.34" class="vh" text-anchor="end">82.50%</text>
<text x="297.78" y="140.34" class="vh" text-anchor="end">81.25%</text>
<text x="319.90" y="140.34" class="vh" text-anchor="end">80.00%</text>
<text x="120.82" y="146.98" class="vh" text-anchor="end">100.00%</text>
<text x="142.94" y="146.98" class="vh" text-anchor="end">97.73%</text>
<text x="165.06" y="146.98" class="vh" text-anchor="end">93.18%</text>
<text x="187.18" y="146.98" class="vh" text-anchor="end">88.64%</text>
<text x="209.30" y="146.98" class="vh" text-anchor="end">87.50%</text>
<text x="231.42" y="146.98" class="vh" text-anchor="end">86.36%</text>
<text x="253.54" y="146.98" class="vh" text-anchor="end">82.95%</text>
<text x="275.66" y="146.98" class="vh" text-anchor="end">81.82%</text>
<text x="297.78" y="146.98" class="vh" text-anchor="end">79.55%</text>
<text x="120.82" y="153.62" class="vh" text-anchor="end">98.10%</text>
<text x="142.94" y="153.62" class="vh" text-anchor="end">98.10%</text>
<text x="165.06" y="153.62" class="vh" text-anchor="end">93.33%</text>
<text x="187.18" y="153.62" class="vh" text-anchor="end">89.52%</text>
<text x="209.30" y="153.62" class="vh" text-anchor="end">87.62%</text>
<text x="231.42" y="153.62" class="vh" text-anchor="end">85.71%</text>
<text x="253.54" y="153.62" class="vh" text-anchor="end">81.90%</text>
<text x="275.66" y="153.62" class="vh" text-anchor="end">78.10%</text>
<text x="120.82" y="160.26" class="vh" text-anchor="end">97.27%</text>
<text x="142.94" y="160.26" class="vh" text-anchor="end">96.36%</text>
<text x="165.06" y="160.26" class="vh" text-anchor="end">92.73%</text>
<text x="187.18" y="160.26" class="vh" text-anchor="end">90.00%</text>
<text x="209.30" y="160.26" class="vh" text-anchor="end">88.18%</text>
<text x="231.42" y="160.26" class="vh" text-anchor="end">83.64%</text>
<text x="253.54" y="160.26" class="vh" text-anchor="end">81.82%</text>
<text x="120.82" y="166.90" class="vh" text-anchor="end">99.13%</text>
<text x="142.94" y="166.90" class="vh" text-anchor="end">97.39%</text>
<text x="165.06" y="166.90" class="vh" text-anchor="end">91.30%</text>
<text x="187.18" y="166.90" class="vh" text-anchor="end">85.22%</text>
<text x="209.30" y="166.90" class="vh" text-anchor="end">84.35%</text>
<text x="231.42" y="166.90" class="vh" text-anchor="end">83.48%</text>
<text x="120.82" y="173.54" class="vh" text-anchor="end">100.00%</text>
<text x="142.94" y="173.54" class="vh" text-anchor="end">95.31%</text>
<text x="165.06" y="173.54" class="vh" text-anchor="end">92.97%</text>
<text x="187.18" y="173.54" class="vh" text-anchor="end">89.84%</text>
<text x="209.30" y="173.54" class="vh" text-anchor="end">85.94%</text>
<text x="120.82" y="180.18" class="vh" text-anchor="end">99.27%</text>
<text x="142.94" y="180.18" class="vh" text-anchor="end">94.16%</text>
<text x="165.06" y="180.18" class="vh" text-anchor="end">89.05%</text>
<text x="187.18" y="180.18" class="vh" text-anchor="end">86.13%</text>
<text x="120.82" y="186.82" class="vh" text-anchor="end">98.68%</text>
<text x="142.94" y="186.82" class="vh" text-anchor="end">96.03%</text>
<text x="165.06" y="186.82" class="vh" text-anchor="end">89.40%</text>
<text x="120.82" y="193.46" class="vh" text-anchor="end">98.14%</text>
<text x="142.94" y="193.46" class="vh" text-anchor="end">95.65%</text>
<text x="120.82" y="200.10" class="vh" text-anchor="end">99.40%</text>
<rect x="99.60" y="201.70" width="221.20" height="1.00" fill="#2b2f36"/>
<rect x="99.60" y="202.70" width="22.17" height="6.30" fill="#4e8a25" shape-rendering="crispEdges"/>
<rect x="121.72" y="202.70" width="22.17" height="6.30" fill="#62973e" shape-rendering="crispEdges"/>
<rect x="143.84" y="202.70" width="22.17" height="6.30" fill="#85ae68" shape-rendering="crispEdges"/>
<rect x="165.96" y="202.70" width="22.17" height="6.30" fill="#9fc089" shape-rendering="crispEdges"/>
<rect x="188.08" y="202.70" width="22.17" height="6.30" fill="#abc898" shape-rendering="crispEdges"/>
<rect x="210.20" y="202.70" width="22.17" height="6.30" fill="#bdd3ae" shape-rendering="crispEdges"/>
<rect x="232.32" y="202.70" width="22.17" height="6.30" fill="#d1e1c7" shape-rendering="crispEdges"/>
<rect x="254.44" y="202.70" width="22.17" height="6.30" fill="#e0ead8" shape-rendering="crispEdges"/>
<rect x="276.56" y="202.70" width="22.17" height="6.30" fill="#e4eddd" shape-rendering="crispEdges"/>
<rect x="298.68" y="202.70" width="22.17" height="6.30" fill="#e8f0e2" shape-rendering="crispEdges"/>
<text x="120.82" y="207.57" class="vh" text-anchor="end">98.75%</text>
<text x="142.94" y="207.57" class="vh" text-anchor="end">96.05%</text>
<text x="165.06" y="207.57" class="vh" text-anchor="end">91.50%</text>
<text x="187.18" y="207.57" class="vh" text-anchor="end">88.12%</text>
<text x="209.30" y="207.57" class="vh" text-anchor="end">86.64%</text>
<text x="231.42" y="207.57" class="vh" text-anchor="end">84.59%</text>
<text x="253.54" y="207.57" class="vh" text-anchor="end">82.29%</text>
<text x="275.66" y="207.57" class="vh" text-anchor="end">80.80%</text>
<text x="297.78" y="207.57" class="vh" text-anchor="end">80.40%</text>
<text x="319.90" y="207.57" class="vh" text-anchor="end">80.00%</text>
<rect x="99.60" y="121.90" width="221.20" height="87.10" fill="none" stroke="#2a2d33" stroke-width="1.1"/>
<rect x="328.60" y="122.70" width="221.80" height="87.70" fill="#8f949c"/>
<rect x="328.00" y="121.90" width="221.20" height="87.10" fill="#ffffff" shape-rendering="crispEdges"/>
<rect x="328.00" y="121.90" width="221.20" height="13.40" fill="#14324f" shape-rendering="crispEdges"/>
<text x="427.60" y="128.31" class="hd" text-anchor="middle" style="font-size:5.37px">% of churned customers in lifetime month (relative to base number)</text>
<rect x="526.60" y="123.10" width="21.80" height="5.00" fill="#ffffff"/>
<text x="537.50" y="127.83" class="lb" text-anchor="middle">B2</text>
<text x="349.12" y="134.49" class="ch" text-anchor="end">0</text>
<text x="371.24" y="134.49" class="ch" text-anchor="end">1</text>
<text x="393.36" y="134.49" class="ch" text-anchor="end">2</text>
<text x="415.48" y="134.49" class="ch" text-anchor="end">3</text>
<text x="437.60" y="134.49" class="ch" text-anchor="end">4</text>
<text x="459.72" y="134.49" class="ch" text-anchor="end">5</text>
<text x="481.84" y="134.49" class="ch" text-anchor="end">6</text>
<text x="503.96" y="134.49" class="ch" text-anchor="end">7</text>
<text x="526.08" y="134.49" class="ch" text-anchor="end">8</text>
<text x="548.20" y="134.49" class="ch" text-anchor="end">9</text>
<rect x="328.00" y="135.30" width="22.17" height="6.69" fill="#f3ab62" shape-rendering="crispEdges"/>
<rect x="350.12" y="135.30" width="22.17" height="6.69" fill="#f19365" shape-rendering="crispEdges"/>
<rect x="372.24" y="135.30" width="22.17" height="6.69" fill="#f19365" shape-rendering="crispEdges"/>
<rect x="394.36" y="135.30" width="22.17" height="6.69" fill="#f3ab62" shape-rendering="crispEdges"/>
<rect x="416.48" y="135.30" width="22.17" height="6.69" fill="#f6c55f" shape-rendering="crispEdges"/>
<rect x="438.60" y="135.30" width="22.17" height="6.69" fill="#f3ab62" shape-rendering="crispEdges"/>
<rect x="460.72" y="135.30" width="22.17" height="6.69" fill="#f6c55f" shape-rendering="crispEdges"/>
<rect x="482.84" y="135.30" width="22.17" height="6.69" fill="#f9e85a" shape-rendering="crispEdges"/>
<rect x="504.96" y="135.30" width="22.17" height="6.69" fill="#f6c55f" shape-rendering="crispEdges"/>
<rect x="527.08" y="135.30" width="22.17" height="6.69" fill="#f6c55f" shape-rendering="crispEdges"/>
<rect x="328.00" y="141.94" width="22.17" height="6.69" fill="#f9e85a" shape-rendering="crispEdges"/>
<rect x="350.12" y="141.94" width="22.17" height="6.69" fill="#f3af62" shape-rendering="crispEdges"/>
<rect x="372.24" y="141.94" width="22.17" height="6.69" fill="#ef8567" shape-rendering="crispEdges"/>
<rect x="394.36" y="141.94" width="22.17" height="6.69" fill="#ef8567" shape-rendering="crispEdges"/>
<rect x="416.48" y="141.94" width="22.17" height="6.69" fill="#f6c75e" shape-rendering="crispEdges"/>
<rect x="438.60" y="141.94" width="22.17" height="6.69" fill="#f6c75e" shape-rendering="crispEdges"/>
<rect x="460.72" y="141.94" width="22.17" height="6.69" fill="#f19965" shape-rendering="crispEdges"/>
<rect x="482.84" y="141.94" width="22.17" height="6.69" fill="#f6c75e" shape-rendering="crispEdges"/>
<rect x="504.96" y="141.94" width="22.17" height="6.69" fill="#f3af62" shape-rendering="crispEdges"/>
<rect x="328.00" y="148.58" width="22.17" height="6.69" fill="#f4b761" shape-rendering="crispEdges"/>
<rect x="350.12" y="148.58" width="22.17" height="6.69" fill="#f9e85a" shape-rendering="crispEdges"/>
<rect x="372.24" y="148.58" width="22.17" height="6.69" fill="#ef8168" shape-rendering="crispEdges"/>
<rect x="394.36" y="148.58" width="22.17" height="6.69" fill="#f19266" shape-rendering="crispEdges"/>
<rect x="416.48" y="148.58" width="22.17" height="6.69" fill="#f4b761" shape-rendering="crispEdges"/>
<rect x="438.60" y="148.58" width="22.17" height="6.69" fill="#f4b761" shape-rendering="crispEdges"/>
<rect x="460.72" y="148.58" width="22.17" height="6.69" fill="#f19266" shape-rendering="crispEdges"/>
<rect x="482.84" y="148.58" width="22.17" height="6.69" fill="#f19266" shape-rendering="crispEdges"/>
<rect x="328.00" y="155.22" width="22.17" height="6.69" fill="#f3a663" shape-rendering="crispEdges"/>
<rect x="350.12" y="155.22" width="22.17" height="6.69" fill="#f6cd5e" shape-rendering="crispEdges"/>
<rect x="372.24" y="155.22" width="22.17" height="6.69" fill="#f19565" shape-rendering="crispEdges"/>
<rect x="394.36" y="155.22" width="22.17" height="6.69" fill="#f3a663" shape-rendering="crispEdges"/>
<rect x="416.48" y="155.22" width="22.17" height="6.69" fill="#f4b860" shape-rendering="crispEdges"/>
<rect x="438.60" y="155.22" width="22.17" height="6.69" fill="#ef8567" shape-rendering="crispEdges"/>
<rect x="460.72" y="155.22" width="22.17" height="6.69" fill="#f4b860" shape-rendering="crispEdges"/>
<rect x="328.00" y="161.86" width="22.17" height="6.69" fill="#f6ce5e" shape-rendering="crispEdges"/>
<rect x="350.12" y="161.86" width="22.17" height="6.69" fill="#f5ba60" shape-rendering="crispEdges"/>
<rect x="372.24" y="161.86" width="22.17" height="6.69" fill="#ed6b6b" shape-rendering="crispEdges"/>
<rect x="394.36" y="161.86" width="22.17" height="6.69" fill="#ed6b6b" shape-rendering="crispEdges"/>
<rect x="416.48" y="161.86" width="22.17" height="6.69" fill="#f6ce5e" shape-rendering="crispEdges"/>
<rect x="438.60" y="161.86" width="22.17" height="6.69" fill="#f6ce5e" shape-rendering="crispEdges"/>
<rect x="328.00" y="168.50" width="22.17" height="6.69" fill="#f9e85a" shape-rendering="crispEdges"/>
<rect x="350.12" y="168.50" width="22.17" height="6.69" fill="#ef8268" shape-rendering="crispEdges"/>
<rect x="372.24" y="168.50" width="22.17" height="6.69" fill="#f3ae62" shape-rendering="crispEdges"/>
<rect x="394.36" y="168.50" width="22.17" height="6.69" fill="#f29f64" shape-rendering="crispEdges"/>
<rect x="416.48" y="168.50" width="22.17" height="6.69" fill="#f09066" shape-rendering="crispEdges"/>
<rect x="328.00" y="175.14" width="22.17" height="6.69" fill="#f7d15d" shape-rendering="crispEdges"/>
<rect x="350.12" y="175.14" width="22.17" height="6.69" fill="#ee7b69" shape-rendering="crispEdges"/>
<rect x="372.24" y="175.14" width="22.17" height="6.69" fill="#ee7b69" shape-rendering="crispEdges"/>
<rect x="394.36" y="175.14" width="22.17" height="6.69" fill="#f2a263" shape-rendering="crispEdges"/>
<rect x="328.00" y="181.78" width="22.17" height="6.69" fill="#f5c35f" shape-rendering="crispEdges"/>
<rect x="350.12" y="181.78" width="22.17" height="6.69" fill="#f3a863" shape-rendering="crispEdges"/>
<rect x="372.24" y="181.78" width="22.17" height="6.69" fill="#ec626c" shape-rendering="crispEdges"/>
<rect x="328.00" y="188.42" width="22.17" height="6.69" fill="#f4b761" shape-rendering="crispEdges"/>
<rect x="350.12" y="188.42" width="22.17" height="6.69" fill="#f3ab62" shape-rendering="crispEdges"/>
<rect x="328.00" y="195.06" width="22.17" height="6.69" fill="#f7d45d" shape-rendering="crispEdges"/>
<text x="349.22" y="140.34" class="vh" text-anchor="end">2.50%</text>
<text x="371.34" y="140.34" class="vh" text-anchor="end">3.75%</text>
<text x="393.46" y="140.34" class="vh" text-anchor="end">3.75%</text>
<text x="415.58" y="140.34" class="vh" text-anchor="end">2.50%</text>
<text x="437.70" y="140.34" class="vh" text-anchor="end">1.25%</text>
<text x="459.82" y="140.34" class="vh" text-anchor="end">2.50%</text>
<text x="481.94" y="140.34" class="vh" text-anchor="end">1.25%</text>
<text x="504.06" y="140.34" class="vh" text-anchor="end">0.00%</text>
<text x="526.18" y="140.34" class="vh" text-anchor="end">1.25%</text>
<text x="548.30" y="140.34" class="vh" text-anchor="end">1.25%</text>
<text x="349.22" y="146.98" class="vh" text-anchor="end">0.00%</text>
<text x="371.34" y="146.98" class="vh" text-anchor="end">2.27%</text>
<text x="393.46" y="146.98" class="vh" text-anchor="end">4.55%</text>
<text x="415.58" y="146.98" class="vh" text-anchor="end">4.55%</text>
<text x="437.70" y="146.98" class="vh" text-anchor="end">1.14%</text>
<text x="459.82" y="146.98" class="vh" text-anchor="end">1.14%</text>
<text x="481.94" y="146.98" class="vh" text-anchor="end">3.41%</text>
<text x="504.06" y="146.98" class="vh" text-anchor="end">1.14%</text>
<text x="526.18" y="146.98" class="vh" text-anchor="end">2.27%</text>
<text x="349.22" y="153.62" class="vh" text-anchor="end">1.90%</text>
<text x="371.34" y="153.62" class="vh" text-anchor="end">0.00%</text>
<text x="393.46" y="153.62" class="vh" text-anchor="end">4.76%</text>
<text x="415.58" y="153.62" class="vh" text-anchor="end">3.81%</text>
<text x="437.70" y="153.62" class="vh" text-anchor="end">1.90%</text>
<text x="459.82" y="153.62" class="vh" text-anchor="end">1.90%</text>
<text x="481.94" y="153.62" class="vh" text-anchor="end">3.81%</text>
<text x="504.06" y="153.62" class="vh" text-anchor="end">3.81%</text>
<text x="349.22" y="160.26" class="vh" text-anchor="end">2.73%</text>
<text x="371.34" y="160.26" class="vh" text-anchor="end">0.91%</text>
<text x="393.46" y="160.26" class="vh" text-anchor="end">3.64%</text>
<text x="415.58" y="160.26" class="vh" text-anchor="end">2.73%</text>
<text x="437.70" y="160.26" class="vh" text-anchor="end">1.82%</text>
<text x="459.82" y="160.26" class="vh" text-anchor="end">4.55%</text>
<text x="481.94" y="160.26" class="vh" text-anchor="end">1.82%</text>
<text x="349.22" y="166.90" class="vh" text-anchor="end">0.87%</text>
<text x="371.34" y="166.90" class="vh" text-anchor="end">1.74%</text>
<text x="393.46" y="166.90" class="vh" text-anchor="end">6.09%</text>
<text x="415.58" y="166.90" class="vh" text-anchor="end">6.09%</text>
<text x="437.70" y="166.90" class="vh" text-anchor="end">0.87%</text>
<text x="459.82" y="166.90" class="vh" text-anchor="end">0.87%</text>
<text x="349.22" y="173.54" class="vh" text-anchor="end">0.00%</text>
<text x="371.34" y="173.54" class="vh" text-anchor="end">4.69%</text>
<text x="393.46" y="173.54" class="vh" text-anchor="end">2.34%</text>
<text x="415.58" y="173.54" class="vh" text-anchor="end">3.12%</text>
<text x="437.70" y="173.54" class="vh" text-anchor="end">3.91%</text>
<text x="349.22" y="180.18" class="vh" text-anchor="end">0.73%</text>
<text x="371.34" y="180.18" class="vh" text-anchor="end">5.11%</text>
<text x="393.46" y="180.18" class="vh" text-anchor="end">5.11%</text>
<text x="415.58" y="180.18" class="vh" text-anchor="end">2.92%</text>
<text x="349.22" y="186.82" class="vh" text-anchor="end">1.32%</text>
<text x="371.34" y="186.82" class="vh" text-anchor="end">2.65%</text>
<text x="393.46" y="186.82" class="vh" text-anchor="end">6.62%</text>
<text x="349.22" y="193.46" class="vh" text-anchor="end">1.86%</text>
<text x="371.34" y="193.46" class="vh" text-anchor="end">2.48%</text>
<text x="349.22" y="200.10" class="vh" text-anchor="end">0.60%</text>
<rect x="328.00" y="201.70" width="221.20" height="1.00" fill="#2b2f36"/>
<rect x="328.00" y="202.70" width="22.17" height="6.30" fill="#f6c55f" shape-rendering="crispEdges"/>
<rect x="350.12" y="202.70" width="22.17" height="6.30" fill="#f3a863" shape-rendering="crispEdges"/>
<rect x="372.24" y="202.70" width="22.17" height="6.30" fill="#ef8467" shape-rendering="crispEdges"/>
<rect x="394.36" y="202.70" width="22.17" height="6.30" fill="#f19465" shape-rendering="crispEdges"/>
<rect x="416.48" y="202.70" width="22.17" height="6.30" fill="#f4b860" shape-rendering="crispEdges"/>
<rect x="438.60" y="202.70" width="22.17" height="6.30" fill="#f4b161" shape-rendering="crispEdges"/>
<rect x="460.72" y="202.70" width="22.17" height="6.30" fill="#f3a962" shape-rendering="crispEdges"/>
<rect x="482.84" y="202.70" width="22.17" height="6.30" fill="#f5bc60" shape-rendering="crispEdges"/>
<rect x="504.96" y="202.70" width="22.17" height="6.30" fill="#f4ba60" shape-rendering="crispEdges"/>
<rect x="527.08" y="202.70" width="22.17" height="6.30" fill="#f6c55f" shape-rendering="crispEdges"/>
<text x="349.22" y="207.57" class="vh" text-anchor="end">1.25%</text>
<text x="371.34" y="207.57" class="vh" text-anchor="end">2.62%</text>
<text x="393.46" y="207.57" class="vh" text-anchor="end">4.61%</text>
<text x="415.58" y="207.57" class="vh" text-anchor="end">3.67%</text>
<text x="437.70" y="207.57" class="vh" text-anchor="end">1.81%</text>
<text x="459.82" y="207.57" class="vh" text-anchor="end">2.19%</text>
<text x="481.94" y="207.57" class="vh" text-anchor="end">2.57%</text>
<text x="504.06" y="207.57" class="vh" text-anchor="end">1.65%</text>
<text x="526.18" y="207.57" class="vh" text-anchor="end">1.76%</text>
<text x="548.30" y="207.57" class="vh" text-anchor="end">1.25%</text>
<rect x="328.00" y="121.90" width="221.20" height="87.10" fill="none" stroke="#2a2d33" stroke-width="1.1"/>
<rect x="556.60" y="122.70" width="221.80" height="87.70" fill="#8f949c"/>
<rect x="556.00" y="121.90" width="221.20" height="87.10" fill="#ffffff" shape-rendering="crispEdges"/>
<rect x="556.00" y="121.90" width="221.20" height="13.40" fill="#14324f" shape-rendering="crispEdges"/>
<text x="655.60" y="128.31" class="hd" text-anchor="middle" style="font-size:5.37px">% of churned customers in lifetime month (relative to previous month)</text>
<rect x="754.60" y="123.10" width="21.80" height="5.00" fill="#ffffff"/>
<text x="765.50" y="127.83" class="lb" text-anchor="middle">B3</text>
<text x="577.12" y="134.49" class="ch" text-anchor="end">0</text>
<text x="599.24" y="134.49" class="ch" text-anchor="end">1</text>
<text x="621.36" y="134.49" class="ch" text-anchor="end">2</text>
<text x="643.48" y="134.49" class="ch" text-anchor="end">3</text>
<text x="665.60" y="134.49" class="ch" text-anchor="end">4</text>
<text x="687.72" y="134.49" class="ch" text-anchor="end">5</text>
<text x="709.84" y="134.49" class="ch" text-anchor="end">6</text>
<text x="731.96" y="134.49" class="ch" text-anchor="end">7</text>
<text x="754.08" y="134.49" class="ch" text-anchor="end">8</text>
<text x="776.20" y="134.49" class="ch" text-anchor="end">9</text>
<rect x="556.00" y="135.30" width="22.17" height="6.69" fill="#f3ac62" shape-rendering="crispEdges"/>
<rect x="578.12" y="135.30" width="22.17" height="6.69" fill="#f19465" shape-rendering="crispEdges"/>
<rect x="600.24" y="135.30" width="22.17" height="6.69" fill="#f19166" shape-rendering="crispEdges"/>
<rect x="622.36" y="135.30" width="22.17" height="6.69" fill="#f3a763" shape-rendering="crispEdges"/>
<rect x="644.48" y="135.30" width="22.17" height="6.69" fill="#f5c25f" shape-rendering="crispEdges"/>
<rect x="666.60" y="135.30" width="22.17" height="6.69" fill="#f3a563" shape-rendering="crispEdges"/>
<rect x="688.72" y="135.30" width="22.17" height="6.69" fill="#f5c15f" shape-rendering="crispEdges"/>
<rect x="710.84" y="135.30" width="22.17" height="6.69" fill="#f9e85a" shape-rendering="crispEdges"/>
<rect x="732.96" y="135.30" width="22.17" height="6.69" fill="#f5c05f" shape-rendering="crispEdges"/>
<rect x="755.08" y="135.30" width="22.17" height="6.69" fill="#f5c05f" shape-rendering="crispEdges"/>
<rect x="556.00" y="141.94" width="22.17" height="6.69" fill="#f9e85a" shape-rendering="crispEdges"/>
<rect x="578.12" y="141.94" width="22.17" height="6.69" fill="#f4b161" shape-rendering="crispEdges"/>
<rect x="600.24" y="141.94" width="22.17" height="6.69" fill="#f08667" shape-rendering="crispEdges"/>
<rect x="622.36" y="141.94" width="22.17" height="6.69" fill="#ef8268" shape-rendering="crispEdges"/>
<rect x="644.48" y="141.94" width="22.17" height="6.69" fill="#f6c55f" shape-rendering="crispEdges"/>
<rect x="666.60" y="141.94" width="22.17" height="6.69" fill="#f6c55f" shape-rendering="crispEdges"/>
<rect x="688.72" y="141.94" width="22.17" height="6.69" fill="#f19266" shape-rendering="crispEdges"/>
<rect x="710.84" y="141.94" width="22.17" height="6.69" fill="#f5c35f" shape-rendering="crispEdges"/>
<rect x="732.96" y="141.94" width="22.17" height="6.69" fill="#f3a763" shape-rendering="crispEdges"/>
<rect x="556.00" y="148.58" width="22.17" height="6.69" fill="#f4b860" shape-rendering="crispEdges"/>
<rect x="578.12" y="148.58" width="22.17" height="6.69" fill="#f9e85a" shape-rendering="crispEdges"/>
<rect x="600.24" y="148.58" width="22.17" height="6.69" fill="#ef8368" shape-rendering="crispEdges"/>
<rect x="622.36" y="148.58" width="22.17" height="6.69" fill="#f09066" shape-rendering="crispEdges"/>
<rect x="644.48" y="148.58" width="22.17" height="6.69" fill="#f4b461" shape-rendering="crispEdges"/>
<rect x="666.60" y="148.58" width="22.17" height="6.69" fill="#f4b361" shape-rendering="crispEdges"/>
<rect x="688.72" y="148.58" width="22.17" height="6.69" fill="#f08a67" shape-rendering="crispEdges"/>
<rect x="710.84" y="148.58" width="22.17" height="6.69" fill="#f08667" shape-rendering="crispEdges"/>
<rect x="556.00" y="155.22" width="22.17" height="6.69" fill="#f3a863" shape-rendering="crispEdges"/>
<rect x="578.12" y="155.22" width="22.17" height="6.69" fill="#f6cd5e" shape-rendering="crispEdges"/>
<rect x="600.24" y="155.22" width="22.17" height="6.69" fill="#f19565" shape-rendering="crispEdges"/>
<rect x="622.36" y="155.22" width="22.17" height="6.69" fill="#f2a463" shape-rendering="crispEdges"/>
<rect x="644.48" y="155.22" width="22.17" height="6.69" fill="#f4b661" shape-rendering="crispEdges"/>
<rect x="666.60" y="155.22" width="22.17" height="6.69" fill="#ef7e68" shape-rendering="crispEdges"/>
<rect x="688.72" y="155.22" width="22.17" height="6.69" fill="#f4b361" shape-rendering="crispEdges"/>
<rect x="556.00" y="161.86" width="22.17" height="6.69" fill="#f7ce5d" shape-rendering="crispEdges"/>
<rect x="578.12" y="161.86" width="22.17" height="6.69" fill="#f5bb60" shape-rendering="crispEdges"/>
<rect x="600.24" y="161.86" width="22.17" height="6.69" fill="#ed6c6b" shape-rendering="crispEdges"/>
<rect x="622.36" y="161.86" width="22.17" height="6.69" fill="#ec666c" shape-rendering="crispEdges"/>
<rect x="644.48" y="161.86" width="22.17" height="6.69" fill="#f6cb5e" shape-rendering="crispEdges"/>
<rect x="666.60" y="161.86" width="22.17" height="6.69" fill="#f6cb5e" shape-rendering="crispEdges"/>
<rect x="556.00" y="168.50" width="22.17" height="6.69" fill="#f9e85a" shape-rendering="crispEdges"/>
<rect x="578.12" y="168.50" width="22.17" height="6.69" fill="#ef8667" shape-rendering="crispEdges"/>
<rect x="600.24" y="168.50" width="22.17" height="6.69" fill="#f3ad62" shape-rendering="crispEdges"/>
<rect x="622.36" y="168.50" width="22.17" height="6.69" fill="#f29d64" shape-rendering="crispEdges"/>
<rect x="644.48" y="168.50" width="22.17" height="6.69" fill="#f08b66" shape-rendering="crispEdges"/>
<rect x="556.00" y="175.14" width="22.17" height="6.69" fill="#f7d25d" shape-rendering="crispEdges"/>
<rect x="578.12" y="175.14" width="22.17" height="6.69" fill="#ef7e68" shape-rendering="crispEdges"/>
<rect x="600.24" y="175.14" width="22.17" height="6.69" fill="#ee7969" shape-rendering="crispEdges"/>
<rect x="622.36" y="175.14" width="22.17" height="6.69" fill="#f29e64" shape-rendering="crispEdges"/>
<rect x="556.00" y="181.78" width="22.17" height="6.69" fill="#f6c45f" shape-rendering="crispEdges"/>
<rect x="578.12" y="181.78" width="22.17" height="6.69" fill="#f3a962" shape-rendering="crispEdges"/>
<rect x="600.24" y="181.78" width="22.17" height="6.69" fill="#ec626c" shape-rendering="crispEdges"/>
<rect x="556.00" y="188.42" width="22.17" height="6.69" fill="#f4b960" shape-rendering="crispEdges"/>
<rect x="578.12" y="188.42" width="22.17" height="6.69" fill="#f3ac62" shape-rendering="crispEdges"/>
<rect x="556.00" y="195.06" width="22.17" height="6.69" fill="#f7d55d" shape-rendering="crispEdges"/>
<text x="577.22" y="140.34" class="vh" text-anchor="end">2.50%</text>
<text x="599.34" y="140.34" class="vh" text-anchor="end">3.85%</text>
<text x="621.46" y="140.34" class="vh" text-anchor="end">4.00%</text>
<text x="643.58" y="140.34" class="vh" text-anchor="end">2.78%</text>
<text x="665.70" y="140.34" class="vh" text-anchor="end">1.43%</text>
<text x="687.82" y="140.34" class="vh" text-anchor="end">2.90%</text>
<text x="709.94" y="140.34" class="vh" text-anchor="end">1.49%</text>
<text x="732.06" y="140.34" class="vh" text-anchor="end">0.00%</text>
<text x="754.18" y="140.34" class="vh" text-anchor="end">1.52%</text>
<text x="776.30" y="140.34" class="vh" text-anchor="end">1.54%</text>
<text x="577.22" y="146.98" class="vh" text-anchor="end">0.00%</text>
<text x="599.34" y="146.98" class="vh" text-anchor="end">2.27%</text>
<text x="621.46" y="146.98" class="vh" text-anchor="end">4.65%</text>
<text x="643.58" y="146.98" class="vh" text-anchor="end">4.88%</text>
<text x="665.70" y="146.98" class="vh" text-anchor="end">1.28%</text>
<text x="687.82" y="146.98" class="vh" text-anchor="end">1.30%</text>
<text x="709.94" y="146.98" class="vh" text-anchor="end">3.95%</text>
<text x="732.06" y="146.98" class="vh" text-anchor="end">1.37%</text>
<text x="754.18" y="146.98" class="vh" text-anchor="end">2.78%</text>
<text x="577.22" y="153.62" class="vh" text-anchor="end">1.90%</text>
<text x="599.34" y="153.62" class="vh" text-anchor="end">0.00%</text>
<text x="621.46" y="153.62" class="vh" text-anchor="end">4.85%</text>
<text x="643.58" y="153.62" class="vh" text-anchor="end">4.08%</text>
<text x="665.70" y="153.62" class="vh" text-anchor="end">2.13%</text>
<text x="687.82" y="153.62" class="vh" text-anchor="end">2.17%</text>
<text x="709.94" y="153.62" class="vh" text-anchor="end">4.44%</text>
<text x="732.06" y="153.62" class="vh" text-anchor="end">4.65%</text>
<text x="577.22" y="160.26" class="vh" text-anchor="end">2.73%</text>
<text x="599.34" y="160.26" class="vh" text-anchor="end">0.93%</text>
<text x="621.46" y="160.26" class="vh" text-anchor="end">3.77%</text>
<text x="643.58" y="160.26" class="vh" text-anchor="end">2.94%</text>
<text x="665.70" y="160.26" class="vh" text-anchor="end">2.02%</text>
<text x="687.82" y="160.26" class="vh" text-anchor="end">5.15%</text>
<text x="709.94" y="160.26" class="vh" text-anchor="end">2.17%</text>
<text x="577.22" y="166.90" class="vh" text-anchor="end">0.87%</text>
<text x="599.34" y="166.90" class="vh" text-anchor="end">1.75%</text>
<text x="621.46" y="166.90" class="vh" text-anchor="end">6.25%</text>
<text x="643.58" y="166.90" class="vh" text-anchor="end">6.67%</text>
<text x="665.70" y="166.90" class="vh" text-anchor="end">1.02%</text>
<text x="687.82" y="166.90" class="vh" text-anchor="end">1.03%</text>
<text x="577.22" y="173.54" class="vh" text-anchor="end">0.00%</text>
<text x="599.34" y="173.54" class="vh" text-anchor="end">4.69%</text>
<text x="621.46" y="173.54" class="vh" text-anchor="end">2.46%</text>
<text x="643.58" y="173.54" class="vh" text-anchor="end">3.36%</text>
<text x="665.70" y="173.54" class="vh" text-anchor="end">4.35%</text>
<text x="577.22" y="180.18" class="vh" text-anchor="end">0.73%</text>
<text x="599.34" y="180.18" class="vh" text-anchor="end">5.15%</text>
<text x="621.46" y="180.18" class="vh" text-anchor="end">5.43%</text>
<text x="643.58" y="180.18" class="vh" text-anchor="end">3.28%</text>
<text x="577.22" y="186.82" class="vh" text-anchor="end">1.32%</text>
<text x="599.34" y="186.82" class="vh" text-anchor="end">2.68%</text>
<text x="621.46" y="186.82" class="vh" text-anchor="end">6.90%</text>
<text x="577.22" y="193.46" class="vh" text-anchor="end">1.86%</text>
<text x="599.34" y="193.46" class="vh" text-anchor="end">2.53%</text>
<text x="577.22" y="200.10" class="vh" text-anchor="end">0.60%</text>
<rect x="556.00" y="201.70" width="221.20" height="1.00" fill="#2b2f36"/>
<rect x="556.00" y="202.70" width="22.17" height="6.30" fill="#f6c65f" shape-rendering="crispEdges"/>
<rect x="578.12" y="202.70" width="22.17" height="6.30" fill="#f3aa62" shape-rendering="crispEdges"/>
<rect x="600.24" y="202.70" width="22.17" height="6.30" fill="#ef8467" shape-rendering="crispEdges"/>
<rect x="622.36" y="202.70" width="22.17" height="6.30" fill="#f19166" shape-rendering="crispEdges"/>
<rect x="644.48" y="202.70" width="22.17" height="6.30" fill="#f4b561" shape-rendering="crispEdges"/>
<rect x="666.60" y="202.70" width="22.17" height="6.30" fill="#f3ac62" shape-rendering="crispEdges"/>
<rect x="688.72" y="202.70" width="22.17" height="6.30" fill="#f2a363" shape-rendering="crispEdges"/>
<rect x="710.84" y="202.70" width="22.17" height="6.30" fill="#f4b661" shape-rendering="crispEdges"/>
<rect x="732.96" y="202.70" width="22.17" height="6.30" fill="#f4b361" shape-rendering="crispEdges"/>
<rect x="755.08" y="202.70" width="22.17" height="6.30" fill="#f5c05f" shape-rendering="crispEdges"/>
<text x="577.22" y="207.57" class="vh" text-anchor="end">1.25%</text>
<text x="599.34" y="207.57" class="vh" text-anchor="end">2.65%</text>
<text x="621.46" y="207.57" class="vh" text-anchor="end">4.79%</text>
<text x="643.58" y="207.57" class="vh" text-anchor="end">4.00%</text>
<text x="665.70" y="207.57" class="vh" text-anchor="end">2.04%</text>
<text x="687.82" y="207.57" class="vh" text-anchor="end">2.51%</text>
<text x="709.94" y="207.57" class="vh" text-anchor="end">3.01%</text>
<text x="732.06" y="207.57" class="vh" text-anchor="end">2.01%</text>
<text x="754.18" y="207.57" class="vh" text-anchor="end">2.15%</text>
<text x="776.30" y="207.57" class="vh" text-anchor="end">1.54%</text>
<rect x="556.00" y="121.90" width="221.20" height="87.10" fill="none" stroke="#2a2d33" stroke-width="1.1"/>
<rect x="100.20" y="252.10" width="221.80" height="87.80" fill="#8f949c"/>
<rect x="99.60" y="251.30" width="221.20" height="87.20" fill="#ffffff" shape-rendering="crispEdges"/>
<rect x="99.60" y="251.30" width="221.20" height="13.20" fill="#14324f" shape-rendering="crispEdges"/>
<text x="199.20" y="257.63" class="hd" text-anchor="middle" style="font-size:5.15px">Cohort MRR in month</text>
<rect x="298.20" y="252.50" width="21.80" height="5.00" fill="#ffffff"/>
<text x="309.10" y="257.23" class="lb" text-anchor="middle">C1</text>
<text x="120.72" y="263.89" class="ch" text-anchor="end">Jan-22</text>
<text x="142.84" y="263.89" class="ch" text-anchor="end">Feb-22</text>
<text x="164.96" y="263.89" class="ch" text-anchor="end">Mar-22</text>
<text x="187.08" y="263.89" class="ch" text-anchor="end">Apr-22</text>
<text x="209.20" y="263.89" class="ch" text-anchor="end">May-22</text>
<text x="231.32" y="263.89" class="ch" text-anchor="end">Jun-22</text>
<text x="253.44" y="263.89" class="ch" text-anchor="end">Jul-22</text>
<text x="275.56" y="263.89" class="ch" text-anchor="end">Aug-22</text>
<text x="297.68" y="263.89" class="ch" text-anchor="end">Sep-22</text>
<text x="319.80" y="263.89" class="ch" text-anchor="end">Oct-22</text>
<text x="120.82" y="269.43" class="vmb" text-anchor="end">$7,650</text>
<text x="142.94" y="269.43" class="vmb" text-anchor="end">$7,536</text>
<text x="165.06" y="269.43" class="vmb" text-anchor="end">$7,234</text>
<text x="187.18" y="269.43" class="vmb" text-anchor="end">$6,982</text>
<text x="209.30" y="269.43" class="vmb" text-anchor="end">$6,876</text>
<text x="231.42" y="269.43" class="vmb" text-anchor="end">$6,780</text>
<text x="253.54" y="269.43" class="vmb" text-anchor="end">$6,678</text>
<text x="275.66" y="269.43" class="vmb" text-anchor="end">$6,567</text>
<text x="297.78" y="269.43" class="vmb" text-anchor="end">$6,454</text>
<text x="319.90" y="269.43" class="vmb" text-anchor="end">$6,342</text>
<text x="142.94" y="276.10" class="vmb" text-anchor="end">$7,988</text>
<text x="165.06" y="276.10" class="vmb" text-anchor="end">$7,688</text>
<text x="187.18" y="276.10" class="vmb" text-anchor="end">$7,232</text>
<text x="209.30" y="276.10" class="vmb" text-anchor="end">$6,998</text>
<text x="231.42" y="276.10" class="vmb" text-anchor="end">$6,890</text>
<text x="253.54" y="276.10" class="vmb" text-anchor="end">$6,789</text>
<text x="275.66" y="276.10" class="vmb" text-anchor="end">$6,679</text>
<text x="297.78" y="276.10" class="vmb" text-anchor="end">$6,589</text>
<text x="319.90" y="276.10" class="vmb" text-anchor="end">$6,459</text>
<text x="165.06" y="282.77" class="vmb" text-anchor="end">$9,145</text>
<text x="187.18" y="282.77" class="vmb" text-anchor="end">$8,897</text>
<text x="209.30" y="282.77" class="vmb" text-anchor="end">$8,678</text>
<text x="231.42" y="282.77" class="vmb" text-anchor="end">$8,569</text>
<text x="253.54" y="282.77" class="vmb" text-anchor="end">$8,432</text>
<text x="275.66" y="282.77" class="vmb" text-anchor="end">$8,352</text>
<text x="297.78" y="282.77" class="vmb" text-anchor="end">$8,152</text>
<text x="319.90" y="282.77" class="vmb" text-anchor="end">$7,988</text>
<text x="187.18" y="289.44" class="vmb" text-anchor="end">$9,988</text>
<text x="209.30" y="289.44" class="vmb" text-anchor="end">$9,657</text>
<text x="231.42" y="289.44" class="vmb" text-anchor="end">$9,222</text>
<text x="253.54" y="289.44" class="vmb" text-anchor="end">$8,901</text>
<text x="275.66" y="289.44" class="vmb" text-anchor="end">$9,201</text>
<text x="297.78" y="289.44" class="vmb" text-anchor="end">$9,668</text>
<text x="319.90" y="289.44" class="vmb" text-anchor="end">$9,688</text>
<text x="209.30" y="296.11" class="vmb" text-anchor="end">$11,678</text>
<text x="231.42" y="296.11" class="vmb" text-anchor="end">$11,546</text>
<text x="253.54" y="296.11" class="vmb" text-anchor="end">$11,321</text>
<text x="275.66" y="296.11" class="vmb" text-anchor="end">$11,678</text>
<text x="297.78" y="296.11" class="vmb" text-anchor="end">$11,755</text>
<text x="319.90" y="296.11" class="vmb" text-anchor="end">$11,868</text>
<text x="231.42" y="302.78" class="vmb" text-anchor="end">$12,876</text>
<text x="253.54" y="302.78" class="vmb" text-anchor="end">$12,546</text>
<text x="275.66" y="302.78" class="vmb" text-anchor="end">$12,433</text>
<text x="297.78" y="302.78" class="vmb" text-anchor="end">$12,399</text>
<text x="319.90" y="302.78" class="vmb" text-anchor="end">$12,976</text>
<text x="253.54" y="309.45" class="vmb" text-anchor="end">$13,987</text>
<text x="275.66" y="309.45" class="vmb" text-anchor="end">$12,756</text>
<text x="297.78" y="309.45" class="vmb" text-anchor="end">$13,345</text>
<text x="319.90" y="309.45" class="vmb" text-anchor="end">$13,456</text>
<text x="275.66" y="316.12" class="vmb" text-anchor="end">$14,786</text>
<text x="297.78" y="316.12" class="vmb" text-anchor="end">$14,201</text>
<text x="319.90" y="316.12" class="vmb" text-anchor="end">$14,897</text>
<text x="297.78" y="322.79" class="vmb" text-anchor="end">$15,676</text>
<text x="319.90" y="322.79" class="vmb" text-anchor="end">$14,988</text>
<text x="319.90" y="329.46" class="vmb" text-anchor="end">$15,897</text>
<rect x="99.60" y="331.20" width="221.20" height="1.00" fill="#2b2f36"/>
<text x="120.82" y="336.95" class="tvm" text-anchor="end">$7,650</text>
<text x="142.94" y="336.95" class="tvm" text-anchor="end">$15,524</text>
<text x="165.06" y="336.95" class="tvm" text-anchor="end">$24,067</text>
<text x="187.18" y="336.95" class="tvm" text-anchor="end">$33,099</text>
<text x="209.30" y="336.95" class="tvm" text-anchor="end">$43,887</text>
<text x="231.42" y="336.95" class="tvm" text-anchor="end">$55,883</text>
<text x="253.54" y="336.95" class="tvm" text-anchor="end">$68,654</text>
<text x="275.66" y="336.95" class="tvm" text-anchor="end">$82,452</text>
<text x="297.78" y="336.95" class="tvm" text-anchor="end">$98,239</text>
<text x="319.90" y="336.95" class="tvm" text-anchor="end">$114,559</text>
<rect x="99.60" y="251.30" width="221.20" height="87.20" fill="none" stroke="#2a2d33" stroke-width="1.1"/>
<rect x="328.60" y="252.10" width="221.80" height="80.50" fill="#8f949c"/>
<rect x="328.00" y="251.30" width="221.20" height="79.90" fill="#ffffff" shape-rendering="crispEdges"/>
<rect x="328.00" y="251.30" width="221.20" height="13.20" fill="#14324f" shape-rendering="crispEdges"/>
<text x="427.60" y="257.67" class="hd" text-anchor="middle" style="font-size:5.26px">Retained MRR in lifetime month</text>
<rect x="526.60" y="252.50" width="21.80" height="5.00" fill="#ffffff"/>
<text x="537.50" y="257.23" class="lb" text-anchor="middle">C2</text>
<text x="349.12" y="263.89" class="ch" text-anchor="end">0</text>
<text x="371.24" y="263.89" class="ch" text-anchor="end">1</text>
<text x="393.36" y="263.89" class="ch" text-anchor="end">2</text>
<text x="415.48" y="263.89" class="ch" text-anchor="end">3</text>
<text x="437.60" y="263.89" class="ch" text-anchor="end">4</text>
<text x="459.72" y="263.89" class="ch" text-anchor="end">5</text>
<text x="481.84" y="263.89" class="ch" text-anchor="end">6</text>
<text x="503.96" y="263.89" class="ch" text-anchor="end">7</text>
<text x="526.08" y="263.89" class="ch" text-anchor="end">8</text>
<text x="548.20" y="263.89" class="ch" text-anchor="end">9</text>
<text x="349.22" y="269.43" class="vm" text-anchor="end">$7,650</text>
<text x="371.34" y="269.43" class="vm" text-anchor="end">$7,536</text>
<text x="393.46" y="269.43" class="vm" text-anchor="end">$7,234</text>
<text x="415.58" y="269.43" class="vm" text-anchor="end">$6,982</text>
<text x="437.70" y="269.43" class="vm" text-anchor="end">$6,876</text>
<text x="459.82" y="269.43" class="vm" text-anchor="end">$6,780</text>
<text x="481.94" y="269.43" class="vm" text-anchor="end">$6,678</text>
<text x="504.06" y="269.43" class="vm" text-anchor="end">$6,567</text>
<text x="526.18" y="269.43" class="vm" text-anchor="end">$6,454</text>
<text x="548.30" y="269.43" class="vm" text-anchor="end">$6,342</text>
<text x="349.22" y="276.10" class="vm" text-anchor="end">$7,988</text>
<text x="371.34" y="276.10" class="vm" text-anchor="end">$7,688</text>
<text x="393.46" y="276.10" class="vm" text-anchor="end">$7,232</text>
<text x="415.58" y="276.10" class="vm" text-anchor="end">$6,998</text>
<text x="437.70" y="276.10" class="vm" text-anchor="end">$6,890</text>
<text x="459.82" y="276.10" class="vm" text-anchor="end">$6,789</text>
<text x="481.94" y="276.10" class="vm" text-anchor="end">$6,679</text>
<text x="504.06" y="276.10" class="vm" text-anchor="end">$6,589</text>
<text x="526.18" y="276.10" class="vm" text-anchor="end">$6,459</text>
<text x="349.22" y="282.77" class="vm" text-anchor="end">$9,145</text>
<text x="371.34" y="282.77" class="vm" text-anchor="end">$8,897</text>
<text x="393.46" y="282.77" class="vm" text-anchor="end">$8,678</text>
<text x="415.58" y="282.77" class="vm" text-anchor="end">$8,569</text>
<text x="437.70" y="282.77" class="vm" text-anchor="end">$8,432</text>
<text x="459.82" y="282.77" class="vm" text-anchor="end">$8,352</text>
<text x="481.94" y="282.77" class="vm" text-anchor="end">$8,152</text>
<text x="504.06" y="282.77" class="vm" text-anchor="end">$7,988</text>
<text x="349.22" y="289.44" class="vm" text-anchor="end">$9,988</text>
<text x="371.34" y="289.44" class="vm" text-anchor="end">$9,657</text>
<text x="393.46" y="289.44" class="vm" text-anchor="end">$9,222</text>
<text x="415.58" y="289.44" class="vm" text-anchor="end">$8,901</text>
<text x="437.70" y="289.44" class="vm" text-anchor="end">$9,201</text>
<text x="459.82" y="289.44" class="vm" text-anchor="end">$9,668</text>
<text x="481.94" y="289.44" class="vm" text-anchor="end">$9,688</text>
<text x="349.22" y="296.11" class="vm" text-anchor="end">$11,678</text>
<text x="371.34" y="296.11" class="vm" text-anchor="end">$11,546</text>
<text x="393.46" y="296.11" class="vm" text-anchor="end">$11,321</text>
<text x="415.58" y="296.11" class="vm" text-anchor="end">$11,678</text>
<text x="437.70" y="296.11" class="vm" text-anchor="end">$11,755</text>
<text x="459.82" y="296.11" class="vm" text-anchor="end">$11,868</text>
<text x="349.22" y="302.78" class="vm" text-anchor="end">$12,876</text>
<text x="371.34" y="302.78" class="vm" text-anchor="end">$12,546</text>
<text x="393.46" y="302.78" class="vm" text-anchor="end">$12,433</text>
<text x="415.58" y="302.78" class="vm" text-anchor="end">$12,399</text>
<text x="437.70" y="302.78" class="vm" text-anchor="end">$12,976</text>
<text x="349.22" y="309.45" class="vm" text-anchor="end">$13,987</text>
<text x="371.34" y="309.45" class="vm" text-anchor="end">$12,756</text>
<text x="393.46" y="309.45" class="vm" text-anchor="end">$13,345</text>
<text x="415.58" y="309.45" class="vm" text-anchor="end">$13,456</text>
<text x="349.22" y="316.12" class="vm" text-anchor="end">$14,786</text>
<text x="371.34" y="316.12" class="vm" text-anchor="end">$14,201</text>
<text x="393.46" y="316.12" class="vm" text-anchor="end">$14,897</text>
<text x="349.22" y="322.79" class="vm" text-anchor="end">$15,676</text>
<text x="371.34" y="322.79" class="vm" text-anchor="end">$14,988</text>
<text x="349.22" y="329.46" class="vm" text-anchor="end">$15,897</text>
<rect x="328.00" y="251.30" width="221.20" height="79.90" fill="none" stroke="#2a2d33" stroke-width="1.1"/>
<rect x="556.60" y="252.10" width="221.80" height="80.50" fill="#8f949c"/>
<rect x="556.00" y="251.30" width="221.20" height="79.90" fill="#ffffff" shape-rendering="crispEdges"/>
<rect x="556.00" y="251.30" width="221.20" height="13.20" fill="#14324f" shape-rendering="crispEdges"/>
<text x="655.60" y="257.67" class="hd" text-anchor="middle" style="font-size:5.26px">MRR churn in lifetime month</text>
<rect x="754.60" y="252.50" width="21.80" height="5.00" fill="#ffffff"/>
<text x="765.50" y="257.23" class="lb" text-anchor="middle">C3</text>
<text x="577.12" y="263.89" class="ch" text-anchor="end">0</text>
<text x="599.24" y="263.89" class="ch" text-anchor="end">1</text>
<text x="621.36" y="263.89" class="ch" text-anchor="end">2</text>
<text x="643.48" y="263.89" class="ch" text-anchor="end">3</text>
<text x="665.60" y="263.89" class="ch" text-anchor="end">4</text>
<text x="687.72" y="263.89" class="ch" text-anchor="end">5</text>
<text x="709.84" y="263.89" class="ch" text-anchor="end">6</text>
<text x="731.96" y="263.89" class="ch" text-anchor="end">7</text>
<text x="754.08" y="263.89" class="ch" text-anchor="end">8</text>
<text x="776.20" y="263.89" class="ch" text-anchor="end">9</text>
<text x="577.22" y="269.43" class="vm" text-anchor="end">$201</text>
<text x="599.34" y="269.43" class="vm" text-anchor="end">$114</text>
<text x="621.46" y="269.43" class="vm" text-anchor="end">$302</text>
<text x="643.58" y="269.43" class="vm" text-anchor="end">$252</text>
<text x="665.70" y="269.43" class="vm" text-anchor="end">$106</text>
<text x="687.82" y="269.43" class="vm" text-anchor="end">$96</text>
<text x="709.94" y="269.43" class="vm" text-anchor="end">$102</text>
<text x="732.06" y="269.43" class="vm" text-anchor="end">$111</text>
<text x="754.18" y="269.43" class="vm" text-anchor="end">$113</text>
<text x="776.30" y="269.43" class="vm" text-anchor="end">$112</text>
<text x="577.22" y="276.10" class="vm" text-anchor="end">$0</text>
<text x="599.34" y="276.10" class="vm" text-anchor="end">$300</text>
<text x="621.46" y="276.10" class="vm" text-anchor="end">$456</text>
<text x="643.58" y="276.10" class="vm" text-anchor="end">$234</text>
<text x="665.70" y="276.10" class="vm" text-anchor="end">$108</text>
<text x="687.82" y="276.10" class="vm" text-anchor="end">$101</text>
<text x="709.94" y="276.10" class="vm" text-anchor="end">$110</text>
<text x="732.06" y="276.10" class="vm" text-anchor="end">$90</text>
<text x="754.18" y="276.10" class="vm" text-anchor="end">$130</text>
<text x="577.22" y="282.77" class="vm" text-anchor="end">$89</text>
<text x="599.34" y="282.77" class="vm" text-anchor="end">$248</text>
<text x="621.46" y="282.77" class="vm" text-anchor="end">$219</text>
<text x="643.58" y="282.77" class="vm" text-anchor="end">$109</text>
<text x="665.70" y="282.77" class="vm" text-anchor="end">$137</text>
<text x="687.82" y="282.77" class="vm" text-anchor="end">$80</text>
<text x="709.94" y="282.77" class="vm" text-anchor="end">$200</text>
<text x="732.06" y="282.77" class="vm" text-anchor="end">$164</text>
<text x="577.22" y="289.44" class="vm" text-anchor="end">$135</text>
<text x="599.34" y="289.44" class="vm" text-anchor="end">$331</text>
<text x="621.46" y="289.44" class="vm" text-anchor="end">$435</text>
<text x="643.58" y="289.44" class="vm" text-anchor="end">$321</text>
<text x="665.70" y="289.44" class="vm" text-anchor="end">-$300</text>
<text x="687.82" y="289.44" class="vm" text-anchor="end">-$267</text>
<text x="709.94" y="289.44" class="vm" text-anchor="end">-$220</text>
<text x="577.22" y="296.11" class="vm" text-anchor="end">$110</text>
<text x="599.34" y="296.11" class="vm" text-anchor="end">$132</text>
<text x="621.46" y="296.11" class="vm" text-anchor="end">$225</text>
<text x="643.58" y="296.11" class="vm" text-anchor="end">-$357</text>
<text x="665.70" y="296.11" class="vm" text-anchor="end">-$77</text>
<text x="687.82" y="296.11" class="vm" text-anchor="end">-$113</text>
<text x="577.22" y="302.78" class="vm" text-anchor="end">$0</text>
<text x="599.34" y="302.78" class="vm" text-anchor="end">$330</text>
<text x="621.46" y="302.78" class="vm" text-anchor="end">$113</text>
<text x="643.58" y="302.78" class="vm" text-anchor="end">$34</text>
<text x="665.70" y="302.78" class="vm" text-anchor="end">-$577</text>
<text x="577.22" y="309.45" class="vm" text-anchor="end">$225</text>
<text x="599.34" y="309.45" class="vm" text-anchor="end">$231</text>
<text x="621.46" y="309.45" class="vm" text-anchor="end">-$589</text>
<text x="643.58" y="309.45" class="vm" text-anchor="end">-$111</text>
<text x="577.22" y="316.12" class="vm" text-anchor="end">$3</text>
<text x="599.34" y="316.12" class="vm" text-anchor="end">$585</text>
<text x="621.46" y="316.12" class="vm" text-anchor="end">-$696</text>
<text x="577.22" y="322.79" class="vm" text-anchor="end">$110</text>
<text x="599.34" y="322.79" class="vm" text-anchor="end">$688</text>
<text x="577.22" y="329.46" class="vm" text-anchor="end">$222</text>
<rect x="556.00" y="251.30" width="221.20" height="79.90" fill="none" stroke="#2a2d33" stroke-width="1.1"/>
<rect x="100.20" y="346.00" width="221.80" height="87.60" fill="#8f949c"/>
<rect x="99.60" y="345.20" width="221.20" height="87.00" fill="#ffffff" shape-rendering="crispEdges"/>
<rect x="99.60" y="345.20" width="221.20" height="13.00" fill="#14324f" shape-rendering="crispEdges"/>
<text x="199.20" y="351.59" class="hd" text-anchor="middle" style="font-size:5.33px">% of retained MRR in lifetime month</text>
<rect x="298.20" y="346.40" width="21.80" height="5.00" fill="#ffffff"/>
<text x="309.10" y="351.13" class="lb" text-anchor="middle">D1</text>
<text x="120.72" y="357.79" class="ch" text-anchor="end">0</text>
<text x="142.84" y="357.79" class="ch" text-anchor="end">1</text>
<text x="164.96" y="357.79" class="ch" text-anchor="end">2</text>
<text x="187.08" y="357.79" class="ch" text-anchor="end">3</text>
<text x="209.20" y="357.79" class="ch" text-anchor="end">4</text>
<text x="231.32" y="357.79" class="ch" text-anchor="end">5</text>
<text x="253.44" y="357.79" class="ch" text-anchor="end">6</text>
<text x="275.56" y="357.79" class="ch" text-anchor="end">7</text>
<text x="297.68" y="357.79" class="ch" text-anchor="end">8</text>
<text x="319.80" y="357.79" class="ch" text-anchor="end">9</text>
<rect x="99.60" y="358.20" width="22.17" height="6.72" fill="#f7d65c" shape-rendering="crispEdges"/>
<rect x="121.72" y="358.20" width="22.17" height="6.72" fill="#f6cc5e" shape-rendering="crispEdges"/>
<rect x="143.84" y="358.20" width="22.17" height="6.72" fill="#f4b161" shape-rendering="crispEdges"/>
<rect x="165.96" y="358.20" width="22.17" height="6.72" fill="#f29b64" shape-rendering="crispEdges"/>
<rect x="188.08" y="358.20" width="22.17" height="6.72" fill="#f19166" shape-rendering="crispEdges"/>
<rect x="210.20" y="358.20" width="22.17" height="6.72" fill="#f08967" shape-rendering="crispEdges"/>
<rect x="232.32" y="358.20" width="22.17" height="6.72" fill="#ef8068" shape-rendering="crispEdges"/>
<rect x="254.44" y="358.20" width="22.17" height="6.72" fill="#ee7669" shape-rendering="crispEdges"/>
<rect x="276.56" y="358.20" width="22.17" height="6.72" fill="#ed6c6b" shape-rendering="crispEdges"/>
<rect x="298.68" y="358.20" width="22.17" height="6.72" fill="#ec626c" shape-rendering="crispEdges"/>
<rect x="99.60" y="364.87" width="22.17" height="6.72" fill="#f9e85a" shape-rendering="crispEdges"/>
<rect x="121.72" y="364.87" width="22.17" height="6.72" fill="#f6ce5e" shape-rendering="crispEdges"/>
<rect x="143.84" y="364.87" width="22.17" height="6.72" fill="#f3a663" shape-rendering="crispEdges"/>
<rect x="165.96" y="364.87" width="22.17" height="6.72" fill="#f19266" shape-rendering="crispEdges"/>
<rect x="188.08" y="364.87" width="22.17" height="6.72" fill="#f08867" shape-rendering="crispEdges"/>
<rect x="210.20" y="364.87" width="22.17" height="6.72" fill="#ef7f68" shape-rendering="crispEdges"/>
<rect x="232.32" y="364.87" width="22.17" height="6.72" fill="#ee7669" shape-rendering="crispEdges"/>
<rect x="254.44" y="364.87" width="22.17" height="6.72" fill="#ed6e6a" shape-rendering="crispEdges"/>
<rect x="276.56" y="364.87" width="22.17" height="6.72" fill="#ec636c" shape-rendering="crispEdges"/>
<rect x="99.60" y="371.54" width="22.17" height="6.72" fill="#f8e15b" shape-rendering="crispEdges"/>
<rect x="121.72" y="371.54" width="22.17" height="6.72" fill="#f7cf5d" shape-rendering="crispEdges"/>
<rect x="143.84" y="371.54" width="22.17" height="6.72" fill="#f5be60" shape-rendering="crispEdges"/>
<rect x="165.96" y="371.54" width="22.17" height="6.72" fill="#f4b661" shape-rendering="crispEdges"/>
<rect x="188.08" y="371.54" width="22.17" height="6.72" fill="#f3ab62" shape-rendering="crispEdges"/>
<rect x="210.20" y="371.54" width="22.17" height="6.72" fill="#f3a563" shape-rendering="crispEdges"/>
<rect x="232.32" y="371.54" width="22.17" height="6.72" fill="#f19665" shape-rendering="crispEdges"/>
<rect x="254.44" y="371.54" width="22.17" height="6.72" fill="#f08a67" shape-rendering="crispEdges"/>
<rect x="99.60" y="378.21" width="22.17" height="6.72" fill="#f8df5b" shape-rendering="crispEdges"/>
<rect x="121.72" y="378.21" width="22.17" height="6.72" fill="#f6c85e" shape-rendering="crispEdges"/>
<rect x="143.84" y="378.21" width="22.17" height="6.72" fill="#f3aa62" shape-rendering="crispEdges"/>
<rect x="165.96" y="378.21" width="22.17" height="6.72" fill="#f19465" shape-rendering="crispEdges"/>
<rect x="188.08" y="378.21" width="22.17" height="6.72" fill="#f3a863" shape-rendering="crispEdges"/>
<rect x="210.20" y="378.21" width="22.17" height="6.72" fill="#f5bb60" shape-rendering="crispEdges"/>
<rect x="232.32" y="378.21" width="22.17" height="6.72" fill="#f6ca5e" shape-rendering="crispEdges"/>
<rect x="99.60" y="384.88" width="22.17" height="6.72" fill="#f8e25b" shape-rendering="crispEdges"/>
<rect x="121.72" y="384.88" width="22.17" height="6.72" fill="#f8da5c" shape-rendering="crispEdges"/>
<rect x="143.84" y="384.88" width="22.17" height="6.72" fill="#f6cc5e" shape-rendering="crispEdges"/>
<rect x="165.96" y="384.88" width="22.17" height="6.72" fill="#f8e25b" shape-rendering="crispEdges"/>
<rect x="188.08" y="384.88" width="22.17" height="6.72" fill="#f9e65a" shape-rendering="crispEdges"/>
<rect x="210.20" y="384.88" width="22.17" height="6.72" fill="#c2cf4d" shape-rendering="crispEdges"/>
<rect x="99.60" y="391.55" width="22.17" height="6.72" fill="#f9e85a" shape-rendering="crispEdges"/>
<rect x="121.72" y="391.55" width="22.17" height="6.72" fill="#f7d65c" shape-rendering="crispEdges"/>
<rect x="143.84" y="391.55" width="22.17" height="6.72" fill="#f7d05d" shape-rendering="crispEdges"/>
<rect x="165.96" y="391.55" width="22.17" height="6.72" fill="#f6ce5d" shape-rendering="crispEdges"/>
<rect x="188.08" y="391.55" width="22.17" height="6.72" fill="#bacb4b" shape-rendering="crispEdges"/>
<rect x="99.60" y="398.22" width="22.17" height="6.72" fill="#f8dc5c" shape-rendering="crispEdges"/>
<rect x="121.72" y="398.22" width="22.17" height="6.72" fill="#f7d05d" shape-rendering="crispEdges"/>
<rect x="143.84" y="398.22" width="22.17" height="6.72" fill="#a8c346" shape-rendering="crispEdges"/>
<rect x="165.96" y="398.22" width="22.17" height="6.72" fill="#64a436" shape-rendering="crispEdges"/>
<rect x="99.60" y="404.89" width="22.17" height="6.72" fill="#f9e85a" shape-rendering="crispEdges"/>
<rect x="121.72" y="404.89" width="22.17" height="6.72" fill="#f6cc5e" shape-rendering="crispEdges"/>
<rect x="143.84" y="404.89" width="22.17" height="6.72" fill="#becd4c" shape-rendering="crispEdges"/>
<rect x="99.60" y="411.56" width="22.17" height="6.72" fill="#f9e35b" shape-rendering="crispEdges"/>
<rect x="121.72" y="411.56" width="22.17" height="6.72" fill="#f6c55f" shape-rendering="crispEdges"/>
<rect x="99.60" y="418.23" width="22.17" height="6.72" fill="#f8de5b" shape-rendering="crispEdges"/>
<text x="120.82" y="363.26" class="vh" text-anchor="end">97.44%</text>
<text x="142.94" y="363.26" class="vh" text-anchor="end">95.99%</text>
<text x="165.06" y="363.26" class="vh" text-anchor="end">92.14%</text>
<text x="187.18" y="363.26" class="vh" text-anchor="end">88.93%</text>
<text x="209.30" y="363.26" class="vh" text-anchor="end">87.58%</text>
<text x="231.42" y="363.26" class="vh" text-anchor="end">86.36%</text>
<text x="253.54" y="363.26" class="vh" text-anchor="end">85.06%</text>
<text x="275.66" y="363.26" class="vh" text-anchor="end">83.65%</text>
<text x="297.78" y="363.26" class="vh" text-anchor="end">82.21%</text>
<text x="319.90" y="363.26" class="vh" text-anchor="end">80.78%</text>
<text x="120.82" y="369.93" class="vh" text-anchor="end">100.00%</text>
<text x="142.94" y="369.93" class="vh" text-anchor="end">96.24%</text>
<text x="165.06" y="369.93" class="vh" text-anchor="end">90.54%</text>
<text x="187.18" y="369.93" class="vh" text-anchor="end">87.61%</text>
<text x="209.30" y="369.93" class="vh" text-anchor="end">86.25%</text>
<text x="231.42" y="369.93" class="vh" text-anchor="end">84.99%</text>
<text x="253.54" y="369.93" class="vh" text-anchor="end">83.61%</text>
<text x="275.66" y="369.93" class="vh" text-anchor="end">82.49%</text>
<text x="297.78" y="369.93" class="vh" text-anchor="end">80.86%</text>
<text x="120.82" y="376.60" class="vh" text-anchor="end">99.04%</text>
<text x="142.94" y="376.60" class="vh" text-anchor="end">96.35%</text>
<text x="165.06" y="376.60" class="vh" text-anchor="end">93.98%</text>
<text x="187.18" y="376.60" class="vh" text-anchor="end">92.80%</text>
<text x="209.30" y="376.60" class="vh" text-anchor="end">91.31%</text>
<text x="231.42" y="376.60" class="vh" text-anchor="end">90.45%</text>
<text x="253.54" y="376.60" class="vh" text-anchor="end">88.28%</text>
<text x="275.66" y="376.60" class="vh" text-anchor="end">86.51%</text>
<text x="120.82" y="383.27" class="vh" text-anchor="end">98.67%</text>
<text x="142.94" y="383.27" class="vh" text-anchor="end">95.40%</text>
<text x="165.06" y="383.27" class="vh" text-anchor="end">91.10%</text>
<text x="187.18" y="383.27" class="vh" text-anchor="end">87.93%</text>
<text x="209.30" y="383.27" class="vh" text-anchor="end">90.89%</text>
<text x="231.42" y="383.27" class="vh" text-anchor="end">93.53%</text>
<text x="253.54" y="383.27" class="vh" text-anchor="end">95.70%</text>
<text x="120.82" y="389.94" class="vh" text-anchor="end">99.07%</text>
<text x="142.94" y="389.94" class="vh" text-anchor="end">97.95%</text>
<text x="165.06" y="389.94" class="vh" text-anchor="end">96.04%</text>
<text x="187.18" y="389.94" class="vh" text-anchor="end">99.07%</text>
<text x="209.30" y="389.94" class="vh" text-anchor="end">99.72%</text>
<text x="231.42" y="389.94" class="vh" text-anchor="end">100.68%</text>
<text x="120.82" y="396.61" class="vh" text-anchor="end">100.00%</text>
<text x="142.94" y="396.61" class="vh" text-anchor="end">97.44%</text>
<text x="165.06" y="396.61" class="vh" text-anchor="end">96.56%</text>
<text x="187.18" y="396.61" class="vh" text-anchor="end">96.30%</text>
<text x="209.30" y="396.61" class="vh" text-anchor="end">100.78%</text>
<text x="120.82" y="403.28" class="vh" text-anchor="end">98.30%</text>
<text x="142.94" y="403.28" class="vh" text-anchor="end">96.55%</text>
<text x="165.06" y="403.28" class="vh" text-anchor="end">101.01%</text>
<text x="187.18" y="403.28" class="vh" text-anchor="end">101.85%</text>
<text x="120.82" y="409.95" class="vh" text-anchor="end">99.98%</text>
<text x="142.94" y="409.95" class="vh" text-anchor="end">96.02%</text>
<text x="165.06" y="409.95" class="vh" text-anchor="end">100.73%</text>
<text x="120.82" y="416.62" class="vh" text-anchor="end">99.30%</text>
<text x="142.94" y="416.62" class="vh" text-anchor="end">94.96%</text>
<text x="120.82" y="423.29" class="vh" text-anchor="end">98.62%</text>
<rect x="99.60" y="424.90" width="221.20" height="1.00" fill="#2b2f36"/>
<rect x="99.60" y="425.90" width="22.17" height="6.30" fill="#f8e25b" shape-rendering="crispEdges"/>
<rect x="121.72" y="425.90" width="22.17" height="6.30" fill="#f6ce5d" shape-rendering="crispEdges"/>
<rect x="143.84" y="425.90" width="22.17" height="6.30" fill="#f5be60" shape-rendering="crispEdges"/>
<rect x="165.96" y="425.90" width="22.17" height="6.30" fill="#f5c15f" shape-rendering="crispEdges"/>
<rect x="188.08" y="425.90" width="22.17" height="6.30" fill="#f5bd60" shape-rendering="crispEdges"/>
<rect x="210.20" y="425.90" width="22.17" height="6.30" fill="#f4b161" shape-rendering="crispEdges"/>
<rect x="232.32" y="425.90" width="22.17" height="6.30" fill="#f19965" shape-rendering="crispEdges"/>
<rect x="254.44" y="425.90" width="22.17" height="6.30" fill="#ee7b69" shape-rendering="crispEdges"/>
<rect x="276.56" y="425.90" width="22.17" height="6.30" fill="#ed676b" shape-rendering="crispEdges"/>
<rect x="298.68" y="425.90" width="22.17" height="6.30" fill="#ec626c" shape-rendering="crispEdges"/>
<text x="120.82" y="430.77" class="vh" text-anchor="end">99.09%</text>
<text x="142.94" y="430.77" class="vh" text-anchor="end">96.30%</text>
<text x="165.06" y="430.77" class="vh" text-anchor="end">94.02%</text>
<text x="187.18" y="430.77" class="vh" text-anchor="end">94.40%</text>
<text x="209.30" y="430.77" class="vh" text-anchor="end">93.77%</text>
<text x="231.42" y="430.77" class="vh" text-anchor="end">92.07%</text>
<text x="253.54" y="430.77" class="vh" text-anchor="end">88.66%</text>
<text x="275.66" y="430.77" class="vh" text-anchor="end">84.33%</text>
<text x="297.78" y="430.77" class="vh" text-anchor="end">81.53%</text>
<text x="319.90" y="430.77" class="vh" text-anchor="end">80.78%</text>
<rect x="99.60" y="345.20" width="221.20" height="87.00" fill="none" stroke="#2a2d33" stroke-width="1.1"/>
<rect x="328.60" y="346.00" width="221.80" height="87.60" fill="#8f949c"/>
<rect x="328.00" y="345.20" width="221.20" height="87.00" fill="#ffffff" shape-rendering="crispEdges"/>
<rect x="328.00" y="345.20" width="221.20" height="13.00" fill="#14324f" shape-rendering="crispEdges"/>
<text x="427.60" y="351.59" class="hd" text-anchor="middle" style="font-size:5.33px">% MRR churn in lifetime month</text>
<rect x="526.60" y="346.40" width="21.80" height="5.00" fill="#ffffff"/>
<text x="537.50" y="351.13" class="lb" text-anchor="middle">D2</text>
<text x="349.12" y="357.79" class="ch" text-anchor="end">0</text>
<text x="371.24" y="357.79" class="ch" text-anchor="end">1</text>
<text x="393.36" y="357.79" class="ch" text-anchor="end">2</text>
<text x="415.48" y="357.79" class="ch" text-anchor="end">3</text>
<text x="437.60" y="357.79" class="ch" text-anchor="end">4</text>
<text x="459.72" y="357.79" class="ch" text-anchor="end">5</text>
<text x="481.84" y="357.79" class="ch" text-anchor="end">6</text>
<text x="503.96" y="357.79" class="ch" text-anchor="end">7</text>
<text x="526.08" y="357.79" class="ch" text-anchor="end">8</text>
<text x="548.20" y="357.79" class="ch" text-anchor="end">9</text>
<rect x="328.00" y="358.20" width="22.17" height="6.72" fill="#f2a163" shape-rendering="crispEdges"/>
<rect x="350.12" y="358.20" width="22.17" height="6.72" fill="#f5bb60" shape-rendering="crispEdges"/>
<rect x="372.24" y="358.20" width="22.17" height="6.72" fill="#f08667" shape-rendering="crispEdges"/>
<rect x="394.36" y="358.20" width="22.17" height="6.72" fill="#f19365" shape-rendering="crispEdges"/>
<rect x="416.48" y="358.20" width="22.17" height="6.72" fill="#f5be60" shape-rendering="crispEdges"/>
<rect x="438.60" y="358.20" width="22.17" height="6.72" fill="#f5c15f" shape-rendering="crispEdges"/>
<rect x="460.72" y="358.20" width="22.17" height="6.72" fill="#f5bf60" shape-rendering="crispEdges"/>
<rect x="482.84" y="358.20" width="22.17" height="6.72" fill="#f5bc60" shape-rendering="crispEdges"/>
<rect x="504.96" y="358.20" width="22.17" height="6.72" fill="#f5bb60" shape-rendering="crispEdges"/>
<rect x="527.08" y="358.20" width="22.17" height="6.72" fill="#f5bc60" shape-rendering="crispEdges"/>
<rect x="328.00" y="364.87" width="22.17" height="6.72" fill="#f9e85a" shape-rendering="crispEdges"/>
<rect x="350.12" y="364.87" width="22.17" height="6.72" fill="#f08867" shape-rendering="crispEdges"/>
<rect x="372.24" y="364.87" width="22.17" height="6.72" fill="#ec626c" shape-rendering="crispEdges"/>
<rect x="394.36" y="364.87" width="22.17" height="6.72" fill="#f19965" shape-rendering="crispEdges"/>
<rect x="416.48" y="364.87" width="22.17" height="6.72" fill="#f5be60" shape-rendering="crispEdges"/>
<rect x="438.60" y="364.87" width="22.17" height="6.72" fill="#f5c05f" shape-rendering="crispEdges"/>
<rect x="460.72" y="364.87" width="22.17" height="6.72" fill="#f5bd60" shape-rendering="crispEdges"/>
<rect x="482.84" y="364.87" width="22.17" height="6.72" fill="#f5c35f" shape-rendering="crispEdges"/>
<rect x="504.96" y="364.87" width="22.17" height="6.72" fill="#f4b761" shape-rendering="crispEdges"/>
<rect x="328.00" y="371.54" width="22.17" height="6.72" fill="#f6c85e" shape-rendering="crispEdges"/>
<rect x="350.12" y="371.54" width="22.17" height="6.72" fill="#f29f64" shape-rendering="crispEdges"/>
<rect x="372.24" y="371.54" width="22.17" height="6.72" fill="#f3a663" shape-rendering="crispEdges"/>
<rect x="394.36" y="371.54" width="22.17" height="6.72" fill="#f5c25f" shape-rendering="crispEdges"/>
<rect x="416.48" y="371.54" width="22.17" height="6.72" fill="#f5bb60" shape-rendering="crispEdges"/>
<rect x="438.60" y="371.54" width="22.17" height="6.72" fill="#f6ca5e" shape-rendering="crispEdges"/>
<rect x="460.72" y="371.54" width="22.17" height="6.72" fill="#f3aa62" shape-rendering="crispEdges"/>
<rect x="482.84" y="371.54" width="22.17" height="6.72" fill="#f4b361" shape-rendering="crispEdges"/>
<rect x="328.00" y="378.21" width="22.17" height="6.72" fill="#f5be60" shape-rendering="crispEdges"/>
<rect x="350.12" y="378.21" width="22.17" height="6.72" fill="#f19266" shape-rendering="crispEdges"/>
<rect x="372.24" y="378.21" width="22.17" height="6.72" fill="#ef7d68" shape-rendering="crispEdges"/>
<rect x="394.36" y="378.21" width="22.17" height="6.72" fill="#f19465" shape-rendering="crispEdges"/>
<rect x="416.48" y="378.21" width="22.17" height="6.72" fill="#88a932" shape-rendering="crispEdges"/>
<rect x="438.60" y="378.21" width="22.17" height="6.72" fill="#94b036" shape-rendering="crispEdges"/>
<rect x="460.72" y="378.21" width="22.17" height="6.72" fill="#a6ba3d" shape-rendering="crispEdges"/>
<rect x="328.00" y="384.88" width="22.17" height="6.72" fill="#f6c95e" shape-rendering="crispEdges"/>
<rect x="350.12" y="384.88" width="22.17" height="6.72" fill="#f5c45f" shape-rendering="crispEdges"/>
<rect x="372.24" y="384.88" width="22.17" height="6.72" fill="#f4b061" shape-rendering="crispEdges"/>
<rect x="394.36" y="384.88" width="22.17" height="6.72" fill="#85a831" shape-rendering="crispEdges"/>
<rect x="416.48" y="384.88" width="22.17" height="6.72" fill="#e0da51" shape-rendering="crispEdges"/>
<rect x="438.60" y="384.88" width="22.17" height="6.72" fill="#d4d44d" shape-rendering="crispEdges"/>
<rect x="328.00" y="391.55" width="22.17" height="6.72" fill="#f9e85a" shape-rendering="crispEdges"/>
<rect x="350.12" y="391.55" width="22.17" height="6.72" fill="#f2a163" shape-rendering="crispEdges"/>
<rect x="372.24" y="391.55" width="22.17" height="6.72" fill="#f6ca5e" shape-rendering="crispEdges"/>
<rect x="394.36" y="391.55" width="22.17" height="6.72" fill="#f8dd5c" shape-rendering="crispEdges"/>
<rect x="416.48" y="391.55" width="22.17" height="6.72" fill="#538c1f" shape-rendering="crispEdges"/>
<rect x="328.00" y="398.22" width="22.17" height="6.72" fill="#f4b561" shape-rendering="crispEdges"/>
<rect x="350.12" y="398.22" width="22.17" height="6.72" fill="#f4b461" shape-rendering="crispEdges"/>
<rect x="372.24" y="398.22" width="22.17" height="6.72" fill="#4f891d" shape-rendering="crispEdges"/>
<rect x="394.36" y="398.22" width="22.17" height="6.72" fill="#d9d64f" shape-rendering="crispEdges"/>
<rect x="328.00" y="404.89" width="22.17" height="6.72" fill="#f9e75a" shape-rendering="crispEdges"/>
<rect x="350.12" y="404.89" width="22.17" height="6.72" fill="#ef8467" shape-rendering="crispEdges"/>
<rect x="372.24" y="404.89" width="22.17" height="6.72" fill="#45841a" shape-rendering="crispEdges"/>
<rect x="328.00" y="411.56" width="22.17" height="6.72" fill="#f7cf5d" shape-rendering="crispEdges"/>
<rect x="350.12" y="411.56" width="22.17" height="6.72" fill="#ef7c69" shape-rendering="crispEdges"/>
<rect x="328.00" y="418.23" width="22.17" height="6.72" fill="#f5bd60" shape-rendering="crispEdges"/>
<text x="349.22" y="363.26" class="vh" text-anchor="end">2.56%</text>
<text x="371.34" y="363.26" class="vh" text-anchor="end">1.45%</text>
<text x="393.46" y="363.26" class="vh" text-anchor="end">3.85%</text>
<text x="415.58" y="363.26" class="vh" text-anchor="end">3.21%</text>
<text x="437.70" y="363.26" class="vh" text-anchor="end">1.35%</text>
<text x="459.82" y="363.26" class="vh" text-anchor="end">1.22%</text>
<text x="481.94" y="363.26" class="vh" text-anchor="end">1.30%</text>
<text x="504.06" y="363.26" class="vh" text-anchor="end">1.41%</text>
<text x="526.18" y="363.26" class="vh" text-anchor="end">1.44%</text>
<text x="548.30" y="363.26" class="vh" text-anchor="end">1.43%</text>
<text x="349.22" y="369.93" class="vh" text-anchor="end">0.00%</text>
<text x="371.34" y="369.93" class="vh" text-anchor="end">3.76%</text>
<text x="393.46" y="369.93" class="vh" text-anchor="end">5.71%</text>
<text x="415.58" y="369.93" class="vh" text-anchor="end">2.93%</text>
<text x="437.70" y="369.93" class="vh" text-anchor="end">1.35%</text>
<text x="459.82" y="369.93" class="vh" text-anchor="end">1.26%</text>
<text x="481.94" y="369.93" class="vh" text-anchor="end">1.38%</text>
<text x="504.06" y="369.93" class="vh" text-anchor="end">1.13%</text>
<text x="526.18" y="369.93" class="vh" text-anchor="end">1.63%</text>
<text x="349.22" y="376.60" class="vh" text-anchor="end">0.96%</text>
<text x="371.34" y="376.60" class="vh" text-anchor="end">2.69%</text>
<text x="393.46" y="376.60" class="vh" text-anchor="end">2.37%</text>
<text x="415.58" y="376.60" class="vh" text-anchor="end">1.18%</text>
<text x="437.70" y="376.60" class="vh" text-anchor="end">1.48%</text>
<text x="459.82" y="376.60" class="vh" text-anchor="end">0.87%</text>
<text x="481.94" y="376.60" class="vh" text-anchor="end">2.17%</text>
<text x="504.06" y="376.60" class="vh" text-anchor="end">1.78%</text>
<text x="349.22" y="383.27" class="vh" text-anchor="end">1.33%</text>
<text x="371.34" y="383.27" class="vh" text-anchor="end">3.27%</text>
<text x="393.46" y="383.27" class="vh" text-anchor="end">4.30%</text>
<text x="415.58" y="383.27" class="vh" text-anchor="end">3.17%</text>
<text x="437.70" y="383.27" class="vh" text-anchor="end">-2.96%</text>
<text x="459.82" y="383.27" class="vh" text-anchor="end">-2.64%</text>
<text x="481.94" y="383.27" class="vh" text-anchor="end">-2.17%</text>
<text x="349.22" y="389.94" class="vh" text-anchor="end">0.93%</text>
<text x="371.34" y="389.94" class="vh" text-anchor="end">1.12%</text>
<text x="393.46" y="389.94" class="vh" text-anchor="end">1.91%</text>
<text x="415.58" y="389.94" class="vh" text-anchor="end">-3.03%</text>
<text x="437.70" y="389.94" class="vh" text-anchor="end">-0.65%</text>
<text x="459.82" y="389.94" class="vh" text-anchor="end">-0.96%</text>
<text x="349.22" y="396.61" class="vh" text-anchor="end">0.00%</text>
<text x="371.34" y="396.61" class="vh" text-anchor="end">2.56%</text>
<text x="393.46" y="396.61" class="vh" text-anchor="end">0.88%</text>
<text x="415.58" y="396.61" class="vh" text-anchor="end">0.26%</text>
<text x="437.70" y="396.61" class="vh" text-anchor="end">-4.35%</text>
<text x="349.22" y="403.28" class="vh" text-anchor="end">1.70%</text>
<text x="371.34" y="403.28" class="vh" text-anchor="end">1.75%</text>
<text x="393.46" y="403.28" class="vh" text-anchor="end">-4.46%</text>
<text x="415.58" y="403.28" class="vh" text-anchor="end">-0.84%</text>
<text x="349.22" y="409.95" class="vh" text-anchor="end">0.02%</text>
<text x="371.34" y="409.95" class="vh" text-anchor="end">3.96%</text>
<text x="393.46" y="409.95" class="vh" text-anchor="end">-4.71%</text>
<text x="349.22" y="416.62" class="vh" text-anchor="end">0.70%</text>
<text x="371.34" y="416.62" class="vh" text-anchor="end">4.36%</text>
<text x="349.22" y="423.29" class="vh" text-anchor="end">1.38%</text>
<rect x="328.00" y="424.90" width="221.20" height="1.00" fill="#2b2f36"/>
<rect x="328.00" y="425.90" width="22.17" height="6.30" fill="#f6c95e" shape-rendering="crispEdges"/>
<rect x="350.12" y="425.90" width="22.17" height="6.30" fill="#f29b64" shape-rendering="crispEdges"/>
<rect x="372.24" y="425.90" width="22.17" height="6.30" fill="#f7d45d" shape-rendering="crispEdges"/>
<rect x="394.36" y="425.90" width="22.17" height="6.30" fill="#f7d05d" shape-rendering="crispEdges"/>
<rect x="416.48" y="425.90" width="22.17" height="6.30" fill="#d2d34c" shape-rendering="crispEdges"/>
<rect x="438.60" y="425.90" width="22.17" height="6.30" fill="#f1e357" shape-rendering="crispEdges"/>
<rect x="460.72" y="425.90" width="22.17" height="6.30" fill="#f7d35d" shape-rendering="crispEdges"/>
<rect x="482.84" y="425.90" width="22.17" height="6.30" fill="#f5bb60" shape-rendering="crispEdges"/>
<rect x="504.96" y="425.90" width="22.17" height="6.30" fill="#f4b960" shape-rendering="crispEdges"/>
<rect x="527.08" y="425.90" width="22.17" height="6.30" fill="#f5bc60" shape-rendering="crispEdges"/>
<text x="349.22" y="430.77" class="vh" text-anchor="end">0.91%</text>
<text x="371.34" y="430.77" class="vh" text-anchor="end">2.85%</text>
<text x="393.46" y="430.77" class="vh" text-anchor="end">0.53%</text>
<text x="415.58" y="430.77" class="vh" text-anchor="end">0.66%</text>
<text x="437.70" y="430.77" class="vh" text-anchor="end">-1.01%</text>
<text x="459.82" y="430.77" class="vh" text-anchor="end">-0.22%</text>
<text x="481.94" y="430.77" class="vh" text-anchor="end">0.55%</text>
<text x="504.06" y="430.77" class="vh" text-anchor="end">1.44%</text>
<text x="526.18" y="430.77" class="vh" text-anchor="end">1.53%</text>
<text x="548.30" y="430.77" class="vh" text-anchor="end">1.43%</text>
<rect x="328.00" y="345.20" width="221.20" height="87.00" fill="none" stroke="#2a2d33" stroke-width="1.1"/>
<rect x="556.60" y="346.00" width="221.80" height="87.60" fill="#8f949c"/>
<rect x="556.00" y="345.20" width="221.20" height="87.00" fill="#ffffff" shape-rendering="crispEdges"/>
<rect x="556.00" y="345.20" width="221.20" height="13.00" fill="#14324f" shape-rendering="crispEdges"/>
<text x="655.60" y="351.59" class="hd" text-anchor="middle" style="font-size:5.33px">% MRR churn in lifetime month (relative to previous month)</text>
<rect x="754.60" y="346.40" width="21.80" height="5.00" fill="#ffffff"/>
<text x="765.50" y="351.13" class="lb" text-anchor="middle">D3</text>
<text x="577.12" y="357.79" class="ch" text-anchor="end">0</text>
<text x="599.24" y="357.79" class="ch" text-anchor="end">1</text>
<text x="621.36" y="357.79" class="ch" text-anchor="end">2</text>
<text x="643.48" y="357.79" class="ch" text-anchor="end">3</text>
<text x="665.60" y="357.79" class="ch" text-anchor="end">4</text>
<text x="687.72" y="357.79" class="ch" text-anchor="end">5</text>
<text x="709.84" y="357.79" class="ch" text-anchor="end">6</text>
<text x="731.96" y="357.79" class="ch" text-anchor="end">7</text>
<text x="754.08" y="357.79" class="ch" text-anchor="end">8</text>
<text x="776.20" y="357.79" class="ch" text-anchor="end">9</text>
<rect x="556.00" y="358.20" width="22.17" height="6.72" fill="#f2a463" shape-rendering="crispEdges"/>
<rect x="578.12" y="358.20" width="22.17" height="6.72" fill="#f5bc60" shape-rendering="crispEdges"/>
<rect x="600.24" y="358.20" width="22.17" height="6.72" fill="#ef8667" shape-rendering="crispEdges"/>
<rect x="622.36" y="358.20" width="22.17" height="6.72" fill="#f19166" shape-rendering="crispEdges"/>
<rect x="644.48" y="358.20" width="22.17" height="6.72" fill="#f5bb60" shape-rendering="crispEdges"/>
<rect x="666.60" y="358.20" width="22.17" height="6.72" fill="#f5be60" shape-rendering="crispEdges"/>
<rect x="688.72" y="358.20" width="22.17" height="6.72" fill="#f5bb60" shape-rendering="crispEdges"/>
<rect x="710.84" y="358.20" width="22.17" height="6.72" fill="#f4b861" shape-rendering="crispEdges"/>
<rect x="732.96" y="358.20" width="22.17" height="6.72" fill="#f4b661" shape-rendering="crispEdges"/>
<rect x="755.08" y="358.20" width="22.17" height="6.72" fill="#f4b661" shape-rendering="crispEdges"/>
<rect x="556.00" y="364.87" width="22.17" height="6.72" fill="#f9e85a" shape-rendering="crispEdges"/>
<rect x="578.12" y="364.87" width="22.17" height="6.72" fill="#f08b67" shape-rendering="crispEdges"/>
<rect x="600.24" y="364.87" width="22.17" height="6.72" fill="#ec626c" shape-rendering="crispEdges"/>
<rect x="622.36" y="364.87" width="22.17" height="6.72" fill="#f19565" shape-rendering="crispEdges"/>
<rect x="644.48" y="364.87" width="22.17" height="6.72" fill="#f5ba60" shape-rendering="crispEdges"/>
<rect x="666.60" y="364.87" width="22.17" height="6.72" fill="#f5bc60" shape-rendering="crispEdges"/>
<rect x="688.72" y="364.87" width="22.17" height="6.72" fill="#f4b960" shape-rendering="crispEdges"/>
<rect x="710.84" y="364.87" width="22.17" height="6.72" fill="#f5bf60" shape-rendering="crispEdges"/>
<rect x="732.96" y="364.87" width="22.17" height="6.72" fill="#f4b161" shape-rendering="crispEdges"/>
<rect x="556.00" y="371.54" width="22.17" height="6.72" fill="#f6c95e" shape-rendering="crispEdges"/>
<rect x="578.12" y="371.54" width="22.17" height="6.72" fill="#f2a064" shape-rendering="crispEdges"/>
<rect x="600.24" y="371.54" width="22.17" height="6.72" fill="#f3a663" shape-rendering="crispEdges"/>
<rect x="622.36" y="371.54" width="22.17" height="6.72" fill="#f5c15f" shape-rendering="crispEdges"/>
<rect x="644.48" y="371.54" width="22.17" height="6.72" fill="#f4b960" shape-rendering="crispEdges"/>
<rect x="666.60" y="371.54" width="22.17" height="6.72" fill="#f6c95e" shape-rendering="crispEdges"/>
<rect x="688.72" y="371.54" width="22.17" height="6.72" fill="#f3a763" shape-rendering="crispEdges"/>
<rect x="710.84" y="371.54" width="22.17" height="6.72" fill="#f4b062" shape-rendering="crispEdges"/>
<rect x="556.00" y="378.21" width="22.17" height="6.72" fill="#f5bf5f" shape-rendering="crispEdges"/>
<rect x="578.12" y="378.21" width="22.17" height="6.72" fill="#f19465" shape-rendering="crispEdges"/>
<rect x="600.24" y="378.21" width="22.17" height="6.72" fill="#ef7d68" shape-rendering="crispEdges"/>
<rect x="622.36" y="378.21" width="22.17" height="6.72" fill="#f19166" shape-rendering="crispEdges"/>
<rect x="644.48" y="378.21" width="22.17" height="6.72" fill="#7da32e" shape-rendering="crispEdges"/>
<rect x="666.60" y="378.21" width="22.17" height="6.72" fill="#89aa32" shape-rendering="crispEdges"/>
<rect x="688.72" y="378.21" width="22.17" height="6.72" fill="#a8bb3d" shape-rendering="crispEdges"/>
<rect x="556.00" y="384.88" width="22.17" height="6.72" fill="#f6ca5e" shape-rendering="crispEdges"/>
<rect x="578.12" y="384.88" width="22.17" height="6.72" fill="#f6c45f" shape-rendering="crispEdges"/>
<rect x="600.24" y="384.88" width="22.17" height="6.72" fill="#f4b161" shape-rendering="crispEdges"/>
<rect x="622.36" y="384.88" width="22.17" height="6.72" fill="#77a02c" shape-rendering="crispEdges"/>
<rect x="644.48" y="384.88" width="22.17" height="6.72" fill="#e1db51" shape-rendering="crispEdges"/>
<rect x="666.60" y="384.88" width="22.17" height="6.72" fill="#d6d44d" shape-rendering="crispEdges"/>
<rect x="556.00" y="391.55" width="22.17" height="6.72" fill="#f9e85a" shape-rendering="crispEdges"/>
<rect x="578.12" y="391.55" width="22.17" height="6.72" fill="#f2a463" shape-rendering="crispEdges"/>
<rect x="600.24" y="391.55" width="22.17" height="6.72" fill="#f6ca5e" shape-rendering="crispEdges"/>
<rect x="622.36" y="391.55" width="22.17" height="6.72" fill="#f8dd5c" shape-rendering="crispEdges"/>
<rect x="644.48" y="391.55" width="22.17" height="6.72" fill="#518b1e" shape-rendering="crispEdges"/>
<rect x="556.00" y="398.22" width="22.17" height="6.72" fill="#f4b761" shape-rendering="crispEdges"/>
<rect x="578.12" y="398.22" width="22.17" height="6.72" fill="#f4b561" shape-rendering="crispEdges"/>
<rect x="600.24" y="398.22" width="22.17" height="6.72" fill="#508a1e" shape-rendering="crispEdges"/>
<rect x="622.36" y="398.22" width="22.17" height="6.72" fill="#dbd74f" shape-rendering="crispEdges"/>
<rect x="556.00" y="404.89" width="22.17" height="6.72" fill="#f9e75a" shape-rendering="crispEdges"/>
<rect x="578.12" y="404.89" width="22.17" height="6.72" fill="#f08767" shape-rendering="crispEdges"/>
<rect x="600.24" y="404.89" width="22.17" height="6.72" fill="#45841a" shape-rendering="crispEdges"/>
<rect x="556.00" y="411.56" width="22.17" height="6.72" fill="#f7d05d" shape-rendering="crispEdges"/>
<rect x="578.12" y="411.56" width="22.17" height="6.72" fill="#ef7f68" shape-rendering="crispEdges"/>
<rect x="556.00" y="418.23" width="22.17" height="6.72" fill="#f5be60" shape-rendering="crispEdges"/>
<text x="577.22" y="363.26" class="vh" text-anchor="end">2.56%</text>
<text x="599.34" y="363.26" class="vh" text-anchor="end">1.49%</text>
<text x="621.46" y="363.26" class="vh" text-anchor="end">4.01%</text>
<text x="643.58" y="363.26" class="vh" text-anchor="end">3.48%</text>
<text x="665.70" y="363.26" class="vh" text-anchor="end">1.52%</text>
<text x="687.82" y="363.26" class="vh" text-anchor="end">1.40%</text>
<text x="709.94" y="363.26" class="vh" text-anchor="end">1.50%</text>
<text x="732.06" y="363.26" class="vh" text-anchor="end">1.66%</text>
<text x="754.18" y="363.26" class="vh" text-anchor="end">1.72%</text>
<text x="776.30" y="363.26" class="vh" text-anchor="end">1.74%</text>
<text x="577.22" y="369.93" class="vh" text-anchor="end">0.00%</text>
<text x="599.34" y="369.93" class="vh" text-anchor="end">3.76%</text>
<text x="621.46" y="369.93" class="vh" text-anchor="end">5.93%</text>
<text x="643.58" y="369.93" class="vh" text-anchor="end">3.24%</text>
<text x="665.70" y="369.93" class="vh" text-anchor="end">1.54%</text>
<text x="687.82" y="369.93" class="vh" text-anchor="end">1.47%</text>
<text x="709.94" y="369.93" class="vh" text-anchor="end">1.62%</text>
<text x="732.06" y="369.93" class="vh" text-anchor="end">1.35%</text>
<text x="754.18" y="369.93" class="vh" text-anchor="end">1.97%</text>
<text x="577.22" y="376.60" class="vh" text-anchor="end">0.96%</text>
<text x="599.34" y="376.60" class="vh" text-anchor="end">2.71%</text>
<text x="621.46" y="376.60" class="vh" text-anchor="end">2.46%</text>
<text x="643.58" y="376.60" class="vh" text-anchor="end">1.26%</text>
<text x="665.70" y="376.60" class="vh" text-anchor="end">1.60%</text>
<text x="687.82" y="376.60" class="vh" text-anchor="end">0.95%</text>
<text x="709.94" y="376.60" class="vh" text-anchor="end">2.39%</text>
<text x="732.06" y="376.60" class="vh" text-anchor="end">2.01%</text>
<text x="577.22" y="383.27" class="vh" text-anchor="end">1.33%</text>
<text x="599.34" y="383.27" class="vh" text-anchor="end">3.31%</text>
<text x="621.46" y="383.27" class="vh" text-anchor="end">4.50%</text>
<text x="643.58" y="383.27" class="vh" text-anchor="end">3.48%</text>
<text x="665.70" y="383.27" class="vh" text-anchor="end">-3.37%</text>
<text x="687.82" y="383.27" class="vh" text-anchor="end">-3.05%</text>
<text x="709.94" y="383.27" class="vh" text-anchor="end">-2.22%</text>
<text x="577.22" y="389.94" class="vh" text-anchor="end">0.93%</text>
<text x="599.34" y="389.94" class="vh" text-anchor="end">1.13%</text>
<text x="621.46" y="389.94" class="vh" text-anchor="end">1.95%</text>
<text x="643.58" y="389.94" class="vh" text-anchor="end">-3.55%</text>
<text x="665.70" y="389.94" class="vh" text-anchor="end">-0.66%</text>
<text x="687.82" y="389.94" class="vh" text-anchor="end">-0.96%</text>
<text x="577.22" y="396.61" class="vh" text-anchor="end">0.00%</text>
<text x="599.34" y="396.61" class="vh" text-anchor="end">2.56%</text>
<text x="621.46" y="396.61" class="vh" text-anchor="end">0.90%</text>
<text x="643.58" y="396.61" class="vh" text-anchor="end">0.27%</text>
<text x="665.70" y="396.61" class="vh" text-anchor="end">-4.58%</text>
<text x="577.22" y="403.28" class="vh" text-anchor="end">1.70%</text>
<text x="599.34" y="403.28" class="vh" text-anchor="end">1.78%</text>
<text x="621.46" y="403.28" class="vh" text-anchor="end">-4.62%</text>
<text x="643.58" y="403.28" class="vh" text-anchor="end">-0.82%</text>
<text x="577.22" y="409.95" class="vh" text-anchor="end">0.02%</text>
<text x="599.34" y="409.95" class="vh" text-anchor="end">3.96%</text>
<text x="621.46" y="409.95" class="vh" text-anchor="end">-4.91%</text>
<text x="577.22" y="416.62" class="vh" text-anchor="end">0.70%</text>
<text x="599.34" y="416.62" class="vh" text-anchor="end">4.39%</text>
<text x="577.22" y="423.29" class="vh" text-anchor="end">1.38%</text>
<rect x="556.00" y="424.90" width="221.20" height="1.00" fill="#2b2f36"/>
<rect x="556.00" y="425.90" width="22.17" height="6.30" fill="#f6ca5e" shape-rendering="crispEdges"/>
<rect x="578.12" y="425.90" width="22.17" height="6.30" fill="#f08967" shape-rendering="crispEdges"/>
<rect x="600.24" y="425.90" width="22.17" height="6.30" fill="#f7d45d" shape-rendering="crispEdges"/>
<rect x="622.36" y="425.90" width="22.17" height="6.30" fill="#f7d05d" shape-rendering="crispEdges"/>
<rect x="644.48" y="425.90" width="22.17" height="6.30" fill="#d1d24c" shape-rendering="crispEdges"/>
<rect x="666.60" y="425.90" width="22.17" height="6.30" fill="#f0e357" shape-rendering="crispEdges"/>
<rect x="688.72" y="425.90" width="22.17" height="6.30" fill="#f7d25d" shape-rendering="crispEdges"/>
<rect x="710.84" y="425.90" width="22.17" height="6.30" fill="#f4b761" shape-rendering="crispEdges"/>
<rect x="732.96" y="425.90" width="22.17" height="6.30" fill="#f4b361" shape-rendering="crispEdges"/>
<rect x="755.08" y="425.90" width="22.17" height="6.30" fill="#f4b661" shape-rendering="crispEdges"/>
<text x="577.22" y="430.77" class="vh" text-anchor="end">0.91%</text>
<text x="599.34" y="430.77" class="vh" text-anchor="end">3.88%</text>
<text x="621.46" y="430.77" class="vh" text-anchor="end">0.55%</text>
<text x="643.58" y="430.77" class="vh" text-anchor="end">0.69%</text>
<text x="665.70" y="430.77" class="vh" text-anchor="end">-1.09%</text>
<text x="687.82" y="430.77" class="vh" text-anchor="end">-0.24%</text>
<text x="709.94" y="430.77" class="vh" text-anchor="end">0.61%</text>
<text x="732.06" y="430.77" class="vh" text-anchor="end">1.70%</text>
<text x="754.18" y="430.77" class="vh" text-anchor="end">1.85%</text>
<text x="776.30" y="430.77" class="vh" text-anchor="end">1.74%</text>
<rect x="556.00" y="345.20" width="221.20" height="87.00" fill="none" stroke="#2a2d33" stroke-width="1.1"/>
<rect x="21.00" y="459.80" width="362.80" height="218.30" fill="#ffffff"/>
<rect x="394.70" y="459.80" width="380.00" height="218.30" fill="#ffffff"/>
<rect x="21.00" y="688.50" width="363.20" height="218.50" fill="#ffffff"/>
<rect x="394.70" y="688.50" width="380.30" height="218.00" fill="#ffffff"/>
<text x="31.8" y="478.7" class="ct" textLength="70.2" lengthAdjust="spacingAndGlyphs">Customer Cohorts</text>
<line x1="48.0" y1="658.75" x2="374.5" y2="658.75" stroke="#e2e2e2" stroke-width="0.7"/>
<text x="45.20" y="660.56" class="ay" text-anchor="end">0</text>
<line x1="48.0" y1="625.00" x2="374.5" y2="625.00" stroke="#e2e2e2" stroke-width="0.7"/>
<text x="45.20" y="626.81" class="ay" text-anchor="end">250</text>
<line x1="48.0" y1="591.25" x2="374.5" y2="591.25" stroke="#e2e2e2" stroke-width="0.7"/>
<text x="45.20" y="593.06" class="ay" text-anchor="end">500</text>
<line x1="48.0" y1="557.50" x2="374.5" y2="557.50" stroke="#e2e2e2" stroke-width="0.7"/>
<text x="45.20" y="559.31" class="ay" text-anchor="end">750</text>
<line x1="48.0" y1="523.75" x2="374.5" y2="523.75" stroke="#e2e2e2" stroke-width="0.7"/>
<text x="45.20" y="525.56" class="ay" text-anchor="end">1,000</text>
<line x1="48.0" y1="490.00" x2="374.5" y2="490.00" stroke="#e2e2e2" stroke-width="0.7"/>
<text x="45.20" y="491.81" class="ay" text-anchor="end">1,250</text>
<path d="M47.60,648.22 L83.84,648.62 L120.08,649.03 L156.32,649.30 L192.56,649.43 L228.80,649.71 L265.04,649.84 L301.28,649.84 L337.52,649.98 L373.76,650.11 L373.76,658.75 L337.52,658.75 L301.28,658.75 L265.04,658.75 L228.80,658.75 L192.56,658.75 L156.32,658.75 L120.08,658.75 L83.84,658.75 L47.60,658.75 Z" fill="#3f5482"/>
<path d="M47.60,648.22 L83.84,636.75 L120.08,637.42 L156.32,638.23 L192.56,638.90 L228.80,639.31 L265.04,639.58 L301.28,639.99 L337.52,640.25 L373.76,640.66 L373.76,650.11 L337.52,649.98 L301.28,649.84 L265.04,649.84 L228.80,649.71 L192.56,649.43 L156.32,649.30 L120.08,649.03 L83.84,648.62 L47.60,648.22 Z" fill="#f0959a"/>
<path d="M83.84,636.75 L120.08,623.51 L156.32,624.33 L192.56,625.67 L228.80,626.62 L265.04,627.16 L301.28,627.84 L337.52,628.64 L373.76,629.59 L373.76,640.66 L337.52,640.25 L301.28,639.99 L265.04,639.58 L228.80,639.31 L192.56,638.90 L156.32,638.23 L120.08,637.42 L83.84,636.75 Z" fill="#f6c2b8"/>
<path d="M120.08,623.51 L156.32,609.88 L192.56,611.37 L228.80,612.85 L265.04,613.79 L301.28,614.74 L337.52,616.23 L373.76,617.44 L373.76,629.59 L337.52,628.64 L301.28,627.84 L265.04,627.16 L228.80,626.62 L192.56,625.67 L156.32,624.33 L120.08,623.51 Z" fill="#2e86d2"/>
<path d="M156.32,609.88 L192.56,595.98 L228.80,597.73 L265.04,599.62 L301.28,601.51 L337.52,603.13 L373.76,604.48 L373.76,617.44 L337.52,616.23 L301.28,614.74 L265.04,613.79 L228.80,612.85 L192.56,611.37 L156.32,609.88 Z" fill="#6ec3f5"/>
<path d="M192.56,595.98 L228.80,580.45 L265.04,583.15 L301.28,585.45 L337.52,587.61 L373.76,589.63 L373.76,604.48 L337.52,603.13 L301.28,601.51 L265.04,599.62 L228.80,597.73 L192.56,595.98 Z" fill="#a8e6e6"/>
<path d="M228.80,580.45 L265.04,564.79 L301.28,568.03 L337.52,571.13 L373.76,573.70 L373.76,589.63 L337.52,587.61 L301.28,585.45 L265.04,583.15 L228.80,580.45 Z" fill="#ec7384"/>
<path d="M265.04,564.79 L301.28,547.91 L337.52,551.56 L373.76,555.48 L373.76,573.70 L337.52,571.13 L301.28,568.03 L265.04,564.79 Z" fill="#c2dde6"/>
<path d="M301.28,547.91 L337.52,530.23 L373.76,534.68 L373.76,555.48 L337.52,551.56 L301.28,547.91 Z" fill="#3b6a9e"/>
<path d="M337.52,530.23 L373.76,512.14 L373.76,534.68 L337.52,530.23 Z" fill="#f79b74"/>
<text x="47.60" y="666.01" class="ax" text-anchor="middle">Jan-22</text>
<text x="83.84" y="666.01" class="ax" text-anchor="middle">Feb-22</text>
<text x="120.08" y="666.01" class="ax" text-anchor="middle">Mar-22</text>
<text x="156.32" y="666.01" class="ax" text-anchor="middle">Apr-22</text>
<text x="192.56" y="666.01" class="ax" text-anchor="middle">May-22</text>
<text x="228.80" y="666.01" class="ax" text-anchor="middle">Jun-22</text>
<text x="265.04" y="666.01" class="ax" text-anchor="middle">Jul-22</text>
<text x="301.28" y="666.01" class="ax" text-anchor="middle">Aug-22</text>
<text x="337.52" y="666.01" class="ax" text-anchor="middle">Sep-22</text>
<text x="373.76" y="666.01" class="ax" text-anchor="middle">Oct-22</text>
<text x="31.5" y="707.8" class="ct" textLength="51.7" lengthAdjust="spacingAndGlyphs">MRR Cohorts</text>
<line x1="55.2" y1="888.30" x2="373.5" y2="888.30" stroke="#e2e2e2" stroke-width="0.7"/>
<text x="52.60" y="890.11" class="ay" text-anchor="end">$0</text>
<line x1="55.2" y1="854.45" x2="373.5" y2="854.45" stroke="#e2e2e2" stroke-width="0.7"/>
<text x="52.60" y="856.26" class="ay" text-anchor="end">$25,000</text>
<line x1="55.2" y1="820.60" x2="373.5" y2="820.60" stroke="#e2e2e2" stroke-width="0.7"/>
<text x="52.60" y="822.41" class="ay" text-anchor="end">$50,000</text>
<line x1="55.2" y1="786.75" x2="373.5" y2="786.75" stroke="#e2e2e2" stroke-width="0.7"/>
<text x="52.60" y="788.56" class="ay" text-anchor="end">$75,000</text>
<line x1="55.2" y1="752.90" x2="373.5" y2="752.90" stroke="#e2e2e2" stroke-width="0.7"/>
<text x="52.60" y="754.71" class="ay" text-anchor="end">$100,000</text>
<line x1="55.2" y1="719.05" x2="373.5" y2="719.05" stroke="#e2e2e2" stroke-width="0.7"/>
<text x="52.60" y="720.86" class="ay" text-anchor="end">$125,000</text>
<path d="M55.20,877.94 L90.40,878.10 L125.60,878.51 L160.80,878.85 L196.00,878.99 L231.20,879.12 L266.40,879.26 L301.60,879.41 L336.80,879.56 L372.00,879.71 L372.00,888.30 L336.80,888.30 L301.60,888.30 L266.40,888.30 L231.20,888.30 L196.00,888.30 L160.80,888.30 L125.60,888.30 L90.40,888.30 L55.20,888.30 Z" fill="#3f5482"/>
<path d="M55.20,877.94 L90.40,867.28 L125.60,868.10 L160.80,869.05 L196.00,869.51 L231.20,869.79 L266.40,870.07 L301.60,870.36 L336.80,870.64 L372.00,870.97 L372.00,879.71 L336.80,879.56 L301.60,879.41 L266.40,879.26 L231.20,879.12 L196.00,878.99 L160.80,878.85 L125.60,878.51 L90.40,878.10 L55.20,877.94 Z" fill="#f0959a"/>
<path d="M90.40,867.28 L125.60,855.71 L160.80,857.01 L196.00,857.76 L231.20,858.19 L266.40,858.65 L301.60,859.06 L336.80,859.60 L372.00,860.15 L372.00,870.97 L336.80,870.64 L301.60,870.36 L266.40,870.07 L231.20,869.79 L196.00,869.51 L160.80,869.05 L125.60,868.10 L90.40,867.28 Z" fill="#f6c2b8"/>
<path d="M125.60,855.71 L160.80,843.48 L196.00,844.69 L231.20,845.70 L266.40,846.60 L301.60,846.60 L336.80,846.51 L372.00,847.03 L372.00,860.15 L336.80,859.60 L301.60,859.06 L266.40,858.65 L231.20,858.19 L196.00,857.76 L160.80,857.01 L125.60,855.71 Z" fill="#2e86d2"/>
<path d="M160.80,843.48 L196.00,828.88 L231.20,830.07 L266.40,831.27 L301.60,830.79 L336.80,830.60 L372.00,830.96 L372.00,847.03 L336.80,846.51 L301.60,846.60 L266.40,846.60 L231.20,845.70 L196.00,844.69 L160.80,843.48 Z" fill="#6ec3f5"/>
<path d="M196.00,828.88 L231.20,812.63 L266.40,814.28 L301.60,813.95 L336.80,813.81 L372.00,813.40 L372.00,830.96 L336.80,830.60 L301.60,830.79 L266.40,831.27 L231.20,830.07 L196.00,828.88 Z" fill="#a8e6e6"/>
<path d="M231.20,812.63 L266.40,795.34 L301.60,796.68 L336.80,795.74 L372.00,795.18 L372.00,813.40 L336.80,813.81 L301.60,813.95 L266.40,814.28 L231.20,812.63 Z" fill="#ec7384"/>
<path d="M266.40,795.34 L301.60,776.66 L336.80,776.51 L372.00,775.01 L372.00,795.18 L336.80,795.74 L301.60,796.68 L266.40,795.34 Z" fill="#c2dde6"/>
<path d="M301.60,776.66 L336.80,755.28 L372.00,754.71 L372.00,775.01 L336.80,776.51 L301.60,776.66 Z" fill="#3b6a9e"/>
<path d="M336.80,755.28 L372.00,733.19 L372.00,754.71 L336.80,755.28 Z" fill="#f79b74"/>
<text x="55.20" y="895.01" class="ax" text-anchor="middle">Jan-22</text>
<text x="90.40" y="895.01" class="ax" text-anchor="middle">Feb-22</text>
<text x="125.60" y="895.01" class="ax" text-anchor="middle">Mar-22</text>
<text x="160.80" y="895.01" class="ax" text-anchor="middle">Apr-22</text>
<text x="196.00" y="895.01" class="ax" text-anchor="middle">May-22</text>
<text x="231.20" y="895.01" class="ax" text-anchor="middle">Jun-22</text>
<text x="266.40" y="895.01" class="ax" text-anchor="middle">Jul-22</text>
<text x="301.60" y="895.01" class="ax" text-anchor="middle">Aug-22</text>
<text x="336.80" y="895.01" class="ax" text-anchor="middle">Sep-22</text>
<text x="372.00" y="895.01" class="ax" text-anchor="middle">Oct-22</text>
<text x="406.2" y="478.7" class="ct" textLength="160.6" lengthAdjust="spacingAndGlyphs">% of Customer Cohort Retained over Time</text>
<line x1="429.2" y1="489.50" x2="763.8" y2="489.50" stroke="#e2e2e2" stroke-width="0.7"/>
<text x="425.80" y="491.31" class="ay" text-anchor="end">100.00%</text>
<line x1="429.2" y1="520.90" x2="763.8" y2="520.90" stroke="#e2e2e2" stroke-width="0.7"/>
<text x="425.80" y="522.71" class="ay" text-anchor="end">95.00%</text>
<line x1="429.2" y1="552.30" x2="763.8" y2="552.30" stroke="#e2e2e2" stroke-width="0.7"/>
<text x="425.80" y="554.11" class="ay" text-anchor="end">90.00%</text>
<line x1="429.2" y1="583.70" x2="763.8" y2="583.70" stroke="#e2e2e2" stroke-width="0.7"/>
<text x="425.80" y="585.51" class="ay" text-anchor="end">85.00%</text>
<line x1="429.2" y1="615.10" x2="763.8" y2="615.10" stroke="#e2e2e2" stroke-width="0.7"/>
<text x="425.80" y="616.91" class="ay" text-anchor="end">80.00%</text>
<line x1="429.2" y1="646.50" x2="763.8" y2="646.50" stroke="#e2e2e2" stroke-width="0.7"/>
<text x="425.80" y="648.31" class="ay" text-anchor="end">75.00%</text>
<text x="429.20" y="653.51" class="ax" text-anchor="middle">0</text>
<text x="503.50" y="653.51" class="ax" text-anchor="middle">2</text>
<text x="577.80" y="653.51" class="ax" text-anchor="middle">4</text>
<text x="652.10" y="653.51" class="ax" text-anchor="middle">6</text>
<text x="726.40" y="653.51" class="ax" text-anchor="middle">8</text>
<path d="M429.20,505.20 L466.35,528.75 L503.50,552.30 L540.65,568.00 L577.80,575.85 L614.95,591.55 L652.10,599.40 L689.25,599.40 L726.40,607.25 L763.55,615.10" fill="none" stroke="#6a88ad" stroke-width="1.25" stroke-linejoin="round"/>
<path d="M429.20,489.50 L466.35,503.77 L503.50,532.32 L540.65,560.86 L577.80,568.00 L614.95,575.14 L652.10,596.55 L689.25,603.68 L726.40,617.95" fill="none" stroke="#f4cfcb" stroke-width="1.25" stroke-linejoin="round"/>
<path d="M429.20,501.46 L466.35,501.46 L503.50,531.37 L540.65,555.29 L577.80,567.25 L614.95,579.21 L652.10,603.14 L689.25,627.06" fill="none" stroke="#efb0b1" stroke-width="1.25" stroke-linejoin="round"/>
<path d="M429.20,506.63 L466.35,512.34 L503.50,535.17 L540.65,552.30 L577.80,563.72 L614.95,592.26 L652.10,603.68" fill="none" stroke="#6aa3d2" stroke-width="1.25" stroke-linejoin="round"/>
<path d="M429.20,494.96 L466.35,505.88 L503.50,544.11 L540.65,582.33 L577.80,587.80 L614.95,593.26" fill="none" stroke="#56698a" stroke-width="1.25" stroke-linejoin="round"/>
<path d="M429.20,489.50 L466.35,518.94 L503.50,533.66 L540.65,553.28 L577.80,577.81" fill="none" stroke="#c4e8ee" stroke-width="1.25" stroke-linejoin="round"/>
<path d="M429.20,494.08 L466.35,526.17 L503.50,558.26 L540.65,576.59" fill="none" stroke="#82a0c0" stroke-width="1.25" stroke-linejoin="round"/>
<path d="M429.20,497.82 L466.35,514.45 L503.50,556.04" fill="none" stroke="#eca5a2" stroke-width="1.25" stroke-linejoin="round"/>
<path d="M429.20,501.20 L466.35,516.80" fill="none" stroke="#d0e7f1" stroke-width="1.25" stroke-linejoin="round"/>
<path d="M429.20,493.24" fill="none" stroke="#909db2" stroke-width="1.25" stroke-linejoin="round"/>
<line x1="418.40" y1="663.80" x2="423.60" y2="663.80" stroke="#6a88ad" stroke-width="1.4"/>
<text x="426.80" y="665.79" class="lg">Jan-22</text>
<line x1="452.40" y1="663.80" x2="457.60" y2="663.80" stroke="#f4cfcb" stroke-width="1.4"/>
<text x="460.80" y="665.79" class="lg">Feb-22</text>
<line x1="486.40" y1="663.80" x2="491.60" y2="663.80" stroke="#efb0b1" stroke-width="1.4"/>
<text x="494.80" y="665.79" class="lg">Mar-22</text>
<line x1="520.40" y1="663.80" x2="525.60" y2="663.80" stroke="#6aa3d2" stroke-width="1.4"/>
<text x="528.80" y="665.79" class="lg">Apr-22</text>
<line x1="554.40" y1="663.80" x2="559.60" y2="663.80" stroke="#56698a" stroke-width="1.4"/>
<text x="562.80" y="665.79" class="lg">May-22</text>
<line x1="588.40" y1="663.80" x2="593.60" y2="663.80" stroke="#c4e8ee" stroke-width="1.4"/>
<text x="596.80" y="665.79" class="lg">Jun-22</text>
<line x1="622.40" y1="663.80" x2="627.60" y2="663.80" stroke="#82a0c0" stroke-width="1.4"/>
<text x="630.80" y="665.79" class="lg">Jul-22</text>
<line x1="656.40" y1="663.80" x2="661.60" y2="663.80" stroke="#eca5a2" stroke-width="1.4"/>
<text x="664.80" y="665.79" class="lg">Aug-22</text>
<line x1="690.40" y1="663.80" x2="695.60" y2="663.80" stroke="#d0e7f1" stroke-width="1.4"/>
<text x="698.80" y="665.79" class="lg">Sep-22</text>
<line x1="724.40" y1="663.80" x2="729.60" y2="663.80" stroke="#909db2" stroke-width="1.4"/>
<text x="732.80" y="665.79" class="lg">Oct-22</text>
<text x="406.2" y="707.8" class="ct" textLength="141.6" lengthAdjust="spacingAndGlyphs">% of MRR Cohort Retained over Time</text>
<line x1="429.2" y1="718.50" x2="763.8" y2="718.50" stroke="#e2e2e2" stroke-width="0.7"/>
<text x="425.80" y="720.31" class="ay" text-anchor="end">105.00%</text>
<line x1="429.2" y1="744.70" x2="763.8" y2="744.70" stroke="#e2e2e2" stroke-width="0.7"/>
<text x="425.80" y="746.51" class="ay" text-anchor="end">100.00%</text>
<line x1="429.2" y1="770.90" x2="763.8" y2="770.90" stroke="#e2e2e2" stroke-width="0.7"/>
<text x="425.80" y="772.71" class="ay" text-anchor="end">95.00%</text>
<line x1="429.2" y1="797.10" x2="763.8" y2="797.10" stroke="#e2e2e2" stroke-width="0.7"/>
<text x="425.80" y="798.91" class="ay" text-anchor="end">90.00%</text>
<line x1="429.2" y1="823.30" x2="763.8" y2="823.30" stroke="#e2e2e2" stroke-width="0.7"/>
<text x="425.80" y="825.11" class="ay" text-anchor="end">85.00%</text>
<line x1="429.2" y1="849.50" x2="763.8" y2="849.50" stroke="#e2e2e2" stroke-width="0.7"/>
<text x="425.80" y="851.31" class="ay" text-anchor="end">80.00%</text>
<line x1="429.2" y1="875.70" x2="763.8" y2="875.70" stroke="#e2e2e2" stroke-width="0.7"/>
<text x="425.80" y="877.51" class="ay" text-anchor="end">75.00%</text>
<text x="429.20" y="882.81" class="ax" text-anchor="middle">0</text>
<text x="503.50" y="882.81" class="ax" text-anchor="middle">2</text>
<text x="577.80" y="882.81" class="ax" text-anchor="middle">4</text>
<text x="652.10" y="882.81" class="ax" text-anchor="middle">6</text>
<text x="726.40" y="882.81" class="ax" text-anchor="middle">8</text>
<path d="M429.20,758.11 L466.35,765.71 L503.50,785.89 L540.65,802.71 L577.80,809.78 L614.95,816.17 L652.10,822.99 L689.25,830.37 L726.40,837.92 L763.55,845.41" fill="none" stroke="#6a88ad" stroke-width="1.25" stroke-linejoin="round"/>
<path d="M429.20,744.70 L466.35,764.40 L503.50,794.27 L540.65,809.62 L577.80,816.75 L614.95,823.35 L652.10,830.58 L689.25,836.45 L726.40,844.99" fill="none" stroke="#f4cfcb" stroke-width="1.25" stroke-linejoin="round"/>
<path d="M429.20,749.73 L466.35,763.83 L503.50,776.24 L540.65,782.43 L577.80,790.24 L614.95,794.74 L652.10,806.11 L689.25,815.39" fill="none" stroke="#efb0b1" stroke-width="1.25" stroke-linejoin="round"/>
<path d="M429.20,751.67 L466.35,768.80 L503.50,791.34 L540.65,807.95 L577.80,792.44 L614.95,778.60 L652.10,767.23" fill="none" stroke="#6aa3d2" stroke-width="1.25" stroke-linejoin="round"/>
<path d="M429.20,749.57 L466.35,755.44 L503.50,765.45 L540.65,749.57 L577.80,746.17 L614.95,741.14" fill="none" stroke="#56698a" stroke-width="1.25" stroke-linejoin="round"/>
<path d="M429.20,744.70 L466.35,758.11 L503.50,762.73 L540.65,764.09 L577.80,740.61" fill="none" stroke="#c4e8ee" stroke-width="1.25" stroke-linejoin="round"/>
<path d="M429.20,753.61 L466.35,762.78 L503.50,739.41 L540.65,735.01" fill="none" stroke="#82a0c0" stroke-width="1.25" stroke-linejoin="round"/>
<path d="M429.20,744.80 L466.35,765.56 L503.50,740.87" fill="none" stroke="#eca5a2" stroke-width="1.25" stroke-linejoin="round"/>
<path d="M429.20,748.37 L466.35,771.11" fill="none" stroke="#d0e7f1" stroke-width="1.25" stroke-linejoin="round"/>
<path d="M429.20,751.93" fill="none" stroke="#909db2" stroke-width="1.25" stroke-linejoin="round"/>
<line x1="418.40" y1="892.90" x2="423.60" y2="892.90" stroke="#6a88ad" stroke-width="1.4"/>
<text x="426.80" y="894.89" class="lg">Jan-22</text>
<line x1="452.40" y1="892.90" x2="457.60" y2="892.90" stroke="#f4cfcb" stroke-width="1.4"/>
<text x="460.80" y="894.89" class="lg">Feb-22</text>
<line x1="486.40" y1="892.90" x2="491.60" y2="892.90" stroke="#efb0b1" stroke-width="1.4"/>
<text x="494.80" y="894.89" class="lg">Mar-22</text>
<line x1="520.40" y1="892.90" x2="525.60" y2="892.90" stroke="#6aa3d2" stroke-width="1.4"/>
<text x="528.80" y="894.89" class="lg">Apr-22</text>
<line x1="554.40" y1="892.90" x2="559.60" y2="892.90" stroke="#56698a" stroke-width="1.4"/>
<text x="562.80" y="894.89" class="lg">May-22</text>
<line x1="588.40" y1="892.90" x2="593.60" y2="892.90" stroke="#c4e8ee" stroke-width="1.4"/>
<text x="596.80" y="894.89" class="lg">Jun-22</text>
<line x1="622.40" y1="892.90" x2="627.60" y2="892.90" stroke="#82a0c0" stroke-width="1.4"/>
<text x="630.80" y="894.89" class="lg">Jul-22</text>
<line x1="656.40" y1="892.90" x2="661.60" y2="892.90" stroke="#eca5a2" stroke-width="1.4"/>
<text x="664.80" y="894.89" class="lg">Aug-22</text>
<line x1="690.40" y1="892.90" x2="695.60" y2="892.90" stroke="#d0e7f1" stroke-width="1.4"/>
<text x="698.80" y="894.89" class="lg">Sep-22</text>
<line x1="724.40" y1="892.90" x2="729.60" y2="892.90" stroke="#909db2" stroke-width="1.4"/>
<text x="732.80" y="894.89" class="lg">Oct-22</text>
</svg></body></html>
